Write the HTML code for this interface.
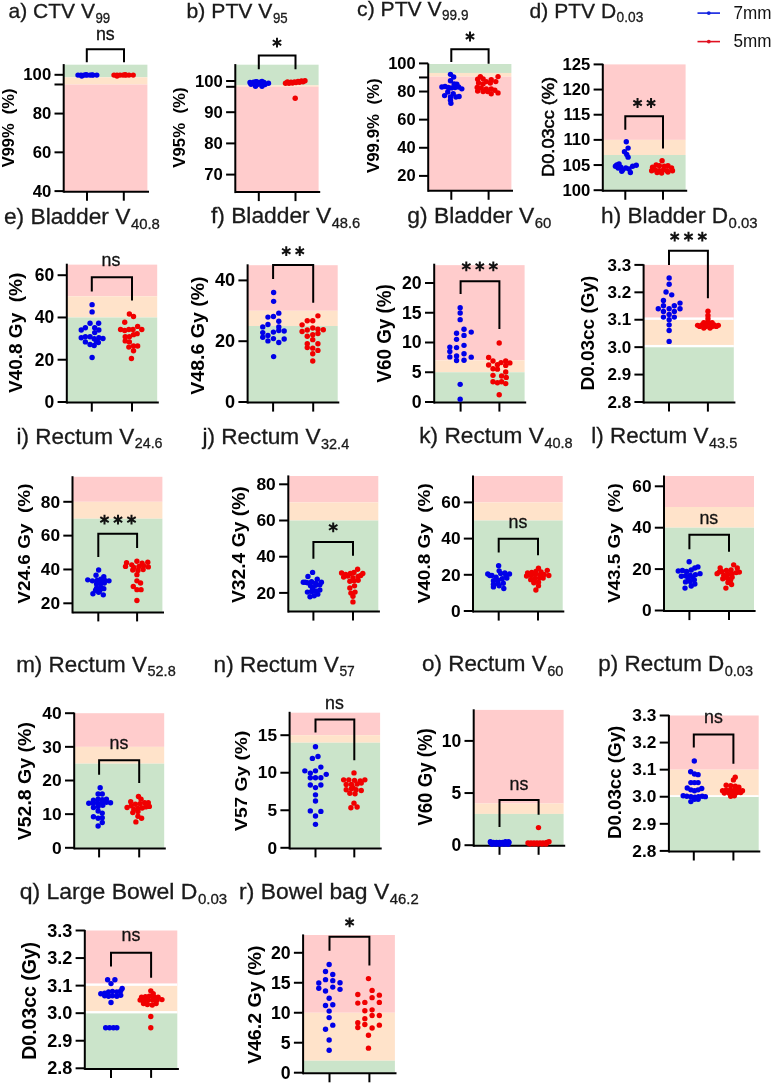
<!DOCTYPE html>
<html><head><meta charset="utf-8"><style>
html,body{margin:0;padding:0;background:#fff;}
body{width:773px;height:1084px;overflow:hidden;}
svg{display:block;font-family:"Liberation Sans", sans-serif;will-change:transform;}
</style></head><body>
<svg width="773" height="1084" viewBox="0 0 773 1084">
<rect width="773" height="1084" fill="#fff"/>
<rect x="63.7" y="64.7" width="83.7" height="12.62" fill="#CBE4CA"/>
<rect x="63.7" y="77.32" width="83.7" height="7.17" fill="#FFE3CA"/>
<rect x="63.7" y="84.49" width="83.7" height="107.21" fill="#FFCCCC"/>
<line x1="63.7" y1="64.1" x2="63.7" y2="192.7" stroke="#000" stroke-width="2.0"/>
<line x1="63.7" y1="191.7" x2="149" y2="191.7" stroke="#000" stroke-width="2.0"/>
<line x1="54.5" y1="74.8" x2="63.7" y2="74.8" stroke="#000" stroke-width="2.0"/>
<line x1="54.5" y1="113.57" x2="63.7" y2="113.57" stroke="#000" stroke-width="2.0"/>
<line x1="54.5" y1="152.33" x2="63.7" y2="152.33" stroke="#000" stroke-width="2.0"/>
<line x1="54.5" y1="191.1" x2="63.7" y2="191.1" stroke="#000" stroke-width="2.0"/>
<line x1="54.5" y1="84.49" x2="63.7" y2="84.49" stroke="#000" stroke-width="2.0"/>
<text x="51.2" y="80.31" font-size="16.7" font-weight="bold" text-anchor="end">100</text>
<text x="51.2" y="119.08" font-size="16.7" font-weight="bold" text-anchor="end">80</text>
<text x="51.2" y="157.85" font-size="16.7" font-weight="bold" text-anchor="end">60</text>
<text x="51.2" y="196.61" font-size="16.7" font-weight="bold" text-anchor="end">40</text>
<line x1="87" y1="191.7" x2="87" y2="200.7" stroke="#000" stroke-width="2.0"/>
<line x1="123.8" y1="191.7" x2="123.8" y2="200.7" stroke="#000" stroke-width="2.0"/>
<circle cx="78" cy="75.1" r="2.7" fill="#0000E8"/>
<circle cx="81" cy="75.1" r="2.7" fill="#0000E8"/>
<circle cx="84" cy="75.1" r="2.7" fill="#0000E8"/>
<circle cx="87" cy="75.1" r="2.7" fill="#0000E8"/>
<circle cx="90" cy="75.1" r="2.7" fill="#0000E8"/>
<circle cx="93" cy="75.1" r="2.7" fill="#0000E8"/>
<circle cx="96.8" cy="75.1" r="2.7" fill="#0000E8"/>
<circle cx="81.8" cy="76.1" r="2.7" fill="#0000E8"/>
<circle cx="86" cy="74.8" r="2.7" fill="#0000E8"/>
<circle cx="92" cy="74.9" r="2.7" fill="#0000E8"/>
<circle cx="114" cy="75.1" r="2.7" fill="#F00000"/>
<circle cx="117" cy="75.1" r="2.7" fill="#F00000"/>
<circle cx="120" cy="75.1" r="2.7" fill="#F00000"/>
<circle cx="123" cy="75.1" r="2.7" fill="#F00000"/>
<circle cx="126" cy="75.1" r="2.7" fill="#F00000"/>
<circle cx="129" cy="75.1" r="2.7" fill="#F00000"/>
<circle cx="133.2" cy="75.1" r="2.7" fill="#F00000"/>
<circle cx="117" cy="76" r="2.7" fill="#F00000"/>
<circle cx="125" cy="74.8" r="2.7" fill="#F00000"/>
<path d="M86.8 62.3V49.2H124V62.3" fill="none" stroke="#000" stroke-width="2.0"/>
<text x="105.3" y="39.6" font-size="18.5" text-anchor="middle" fill="#111" stroke="#111" stroke-width="0.3" textLength="18.8" lengthAdjust="spacingAndGlyphs">ns</text>
<text transform="translate(7.9 127.9) rotate(-90)" x="0" y="6.01" font-size="16.7" font-weight="bold" text-anchor="middle" textLength="78.8" lengthAdjust="spacingAndGlyphs" style="white-space:pre">V99%  (%)</text>
<text x="8.55" y="17.9" font-size="20.3" fill="#1a1a1a" stroke="#1a1a1a" stroke-width="0.3" textLength="86.45" lengthAdjust="spacingAndGlyphs">a) CTV V</text>
<text x="95.5" y="22.7" font-size="14" fill="#1a1a1a" stroke="#1a1a1a" stroke-width="0.3" textLength="14.7" lengthAdjust="spacingAndGlyphs">99</text>
<rect x="235.3" y="64.7" width="83.3" height="20.61" fill="#CBE4CA"/>
<rect x="235.3" y="85.31" width="83.3" height="1.5" fill="#FFE3CA"/>
<rect x="235.3" y="86.8" width="83.3" height="105.3" fill="#FFCCCC"/>
<line x1="235.3" y1="64.1" x2="235.3" y2="193.1" stroke="#000" stroke-width="2.0"/>
<line x1="235.3" y1="192.1" x2="320.2" y2="192.1" stroke="#000" stroke-width="2.0"/>
<line x1="226.1" y1="81" x2="235.3" y2="81" stroke="#000" stroke-width="2.0"/>
<line x1="226.1" y1="112.2" x2="235.3" y2="112.2" stroke="#000" stroke-width="2.0"/>
<line x1="226.1" y1="143.4" x2="235.3" y2="143.4" stroke="#000" stroke-width="2.0"/>
<line x1="226.1" y1="174.6" x2="235.3" y2="174.6" stroke="#000" stroke-width="2.0"/>
<line x1="226.1" y1="86.8" x2="235.3" y2="86.8" stroke="#000" stroke-width="2.0"/>
<text x="222.8" y="86.51" font-size="16.7" font-weight="bold" text-anchor="end">100</text>
<text x="222.8" y="117.71" font-size="16.7" font-weight="bold" text-anchor="end">90</text>
<text x="222.8" y="148.91" font-size="16.7" font-weight="bold" text-anchor="end">80</text>
<text x="222.8" y="180.11" font-size="16.7" font-weight="bold" text-anchor="end">70</text>
<line x1="258.8" y1="192.1" x2="258.8" y2="201.1" stroke="#000" stroke-width="2.0"/>
<line x1="295.5" y1="192.1" x2="295.5" y2="201.1" stroke="#000" stroke-width="2.0"/>
<circle cx="250" cy="82.5" r="2.7" fill="#0000E8"/>
<circle cx="253.5" cy="82.3" r="2.7" fill="#0000E8"/>
<circle cx="257" cy="82" r="2.7" fill="#0000E8"/>
<circle cx="260.5" cy="82.2" r="2.7" fill="#0000E8"/>
<circle cx="264" cy="82.5" r="2.7" fill="#0000E8"/>
<circle cx="268.5" cy="83.2" r="2.7" fill="#0000E8"/>
<circle cx="256" cy="81.6" r="2.7" fill="#0000E8"/>
<circle cx="262" cy="81.5" r="2.7" fill="#0000E8"/>
<circle cx="255.5" cy="86.2" r="2.7" fill="#0000E8"/>
<circle cx="262" cy="86.2" r="2.7" fill="#0000E8"/>
<circle cx="251" cy="84.2" r="2.7" fill="#0000E8"/>
<circle cx="258" cy="84.3" r="2.7" fill="#0000E8"/>
<circle cx="265" cy="84.5" r="2.7" fill="#0000E8"/>
<circle cx="285.5" cy="83.2" r="2.7" fill="#F00000"/>
<circle cx="289" cy="83.3" r="2.7" fill="#F00000"/>
<circle cx="292.5" cy="83" r="2.7" fill="#F00000"/>
<circle cx="296" cy="82.6" r="2.7" fill="#F00000"/>
<circle cx="299.5" cy="82.2" r="2.7" fill="#F00000"/>
<circle cx="303" cy="81.8" r="2.7" fill="#F00000"/>
<circle cx="305" cy="80.8" r="2.7" fill="#F00000"/>
<circle cx="298" cy="81.4" r="2.7" fill="#F00000"/>
<circle cx="291" cy="82.2" r="2.7" fill="#F00000"/>
<circle cx="294.5" cy="82" r="2.7" fill="#F00000"/>
<circle cx="301.5" cy="81" r="2.7" fill="#F00000"/>
<circle cx="287.5" cy="82" r="2.7" fill="#F00000"/>
<circle cx="295.2" cy="98.2" r="2.7" fill="#F00000"/>
<path d="M258.8 69.3V55.6H295.5V69.3" fill="none" stroke="#000" stroke-width="2.0"/>
<path d="M277 37.8L277 47.6M272.76 40.25L281.24 45.15M281.24 40.25L272.76 45.15" stroke="#111" stroke-width="2.0" stroke-linecap="butt"/>
<text transform="translate(179.4 127.6) rotate(-90)" x="0" y="6.01" font-size="16.7" font-weight="bold" text-anchor="middle" textLength="80.2" lengthAdjust="spacingAndGlyphs" style="white-space:pre">V95%  (%)</text>
<text x="186.6" y="17.9" font-size="20.3" fill="#1a1a1a" stroke="#1a1a1a" stroke-width="0.3" textLength="85.8" lengthAdjust="spacingAndGlyphs">b) PTV V</text>
<text x="272.9" y="22.7" font-size="14" fill="#1a1a1a" stroke="#1a1a1a" stroke-width="0.3" textLength="14.7" lengthAdjust="spacingAndGlyphs">95</text>
<rect x="428.2" y="64" width="83.2" height="8.96" fill="#CBE4CA"/>
<rect x="428.2" y="72.96" width="83.2" height="3.66" fill="#FFE3CA"/>
<rect x="428.2" y="76.62" width="83.2" height="114.18" fill="#FFCCCC"/>
<line x1="428.2" y1="63.4" x2="428.2" y2="191.8" stroke="#000" stroke-width="2.0"/>
<line x1="428.2" y1="190.8" x2="513" y2="190.8" stroke="#000" stroke-width="2.0"/>
<line x1="419" y1="63.4" x2="428.2" y2="63.4" stroke="#000" stroke-width="2.0"/>
<line x1="419" y1="91.53" x2="428.2" y2="91.53" stroke="#000" stroke-width="2.0"/>
<line x1="419" y1="119.65" x2="428.2" y2="119.65" stroke="#000" stroke-width="2.0"/>
<line x1="419" y1="147.78" x2="428.2" y2="147.78" stroke="#000" stroke-width="2.0"/>
<line x1="419" y1="175.9" x2="428.2" y2="175.9" stroke="#000" stroke-width="2.0"/>
<line x1="419" y1="77.46" x2="428.2" y2="77.46" stroke="#000" stroke-width="2.0"/>
<text x="415.7" y="68.84" font-size="16.5" font-weight="bold" text-anchor="end">100</text>
<text x="415.7" y="96.97" font-size="16.5" font-weight="bold" text-anchor="end">80</text>
<text x="415.7" y="125.09" font-size="16.5" font-weight="bold" text-anchor="end">60</text>
<text x="415.7" y="153.22" font-size="16.5" font-weight="bold" text-anchor="end">40</text>
<text x="415.7" y="181.34" font-size="16.5" font-weight="bold" text-anchor="end">20</text>
<line x1="451.3" y1="190.8" x2="451.3" y2="199.8" stroke="#000" stroke-width="2.0"/>
<line x1="488.6" y1="190.8" x2="488.6" y2="199.8" stroke="#000" stroke-width="2.0"/>
<circle cx="450.49" cy="74.34" r="2.7" fill="#0000E8"/>
<circle cx="453.66" cy="77.06" r="2.7" fill="#0000E8"/>
<circle cx="450.49" cy="80.68" r="2.7" fill="#0000E8"/>
<circle cx="454.11" cy="83.85" r="2.7" fill="#0000E8"/>
<circle cx="456.83" cy="84.3" r="2.7" fill="#0000E8"/>
<circle cx="441.89" cy="87.02" r="2.7" fill="#0000E8"/>
<circle cx="445.06" cy="86.56" r="2.7" fill="#0000E8"/>
<circle cx="448.23" cy="87.47" r="2.7" fill="#0000E8"/>
<circle cx="451.39" cy="87.92" r="2.7" fill="#0000E8"/>
<circle cx="455.02" cy="87.47" r="2.7" fill="#0000E8"/>
<circle cx="458.64" cy="87.02" r="2.7" fill="#0000E8"/>
<circle cx="461.81" cy="88.83" r="2.7" fill="#0000E8"/>
<circle cx="447.77" cy="92" r="2.7" fill="#0000E8"/>
<circle cx="453.21" cy="93.81" r="2.7" fill="#0000E8"/>
<circle cx="444.6" cy="95.62" r="2.7" fill="#0000E8"/>
<circle cx="450.49" cy="96.98" r="2.7" fill="#0000E8"/>
<circle cx="455.92" cy="96.98" r="2.7" fill="#0000E8"/>
<circle cx="459.09" cy="96.53" r="2.7" fill="#0000E8"/>
<circle cx="450.49" cy="100.15" r="2.7" fill="#0000E8"/>
<circle cx="450.94" cy="103.32" r="2.7" fill="#0000E8"/>
<circle cx="480.37" cy="76.6" r="2.7" fill="#F00000"/>
<circle cx="498.03" cy="76.6" r="2.7" fill="#F00000"/>
<circle cx="477.66" cy="79.32" r="2.7" fill="#F00000"/>
<circle cx="483.09" cy="78.87" r="2.7" fill="#F00000"/>
<circle cx="491.24" cy="79.77" r="2.7" fill="#F00000"/>
<circle cx="495.77" cy="81.58" r="2.7" fill="#F00000"/>
<circle cx="486.26" cy="81.58" r="2.7" fill="#F00000"/>
<circle cx="478.56" cy="82.94" r="2.7" fill="#F00000"/>
<circle cx="483.09" cy="83.85" r="2.7" fill="#F00000"/>
<circle cx="490.33" cy="82.94" r="2.7" fill="#F00000"/>
<circle cx="477.2" cy="87.47" r="2.7" fill="#F00000"/>
<circle cx="481.28" cy="87.92" r="2.7" fill="#F00000"/>
<circle cx="486.26" cy="88.83" r="2.7" fill="#F00000"/>
<circle cx="491.24" cy="88.83" r="2.7" fill="#F00000"/>
<circle cx="494.86" cy="90.19" r="2.7" fill="#F00000"/>
<circle cx="477.66" cy="91.09" r="2.7" fill="#F00000"/>
<circle cx="483.09" cy="91.54" r="2.7" fill="#F00000"/>
<circle cx="487.62" cy="91.54" r="2.7" fill="#F00000"/>
<circle cx="491.24" cy="93.81" r="2.7" fill="#F00000"/>
<circle cx="498.03" cy="92.9" r="2.7" fill="#F00000"/>
<path d="M451.3 62.1V49.2H488.6V63.8" fill="none" stroke="#000" stroke-width="2.0"/>
<path d="M470 31.6L470 41.4M465.76 34.05L474.24 38.95M474.24 34.05L465.76 38.95" stroke="#111" stroke-width="2.0" stroke-linecap="butt"/>
<text transform="translate(372.4 125.7) rotate(-90)" x="0" y="6.12" font-size="17" font-weight="bold" text-anchor="middle" textLength="94.8" lengthAdjust="spacingAndGlyphs" style="white-space:pre">V99.9%  (%)</text>
<text x="357.1" y="15.6" font-size="20.3" fill="#1a1a1a" stroke="#1a1a1a" stroke-width="0.3" textLength="84.5" lengthAdjust="spacingAndGlyphs">c) PTV V</text>
<text x="442.1" y="20.4" font-size="14" fill="#1a1a1a" stroke="#1a1a1a" stroke-width="0.3" textLength="26.3" lengthAdjust="spacingAndGlyphs">99.9</text>
<rect x="602.8" y="64.4" width="82.8" height="75.48" fill="#FFCCCC"/>
<rect x="602.8" y="139.88" width="82.8" height="15.1" fill="#FFE3CA"/>
<rect x="602.8" y="154.98" width="82.8" height="35.22" fill="#CBE4CA"/>
<line x1="602.8" y1="63.8" x2="602.8" y2="191.8" stroke="#000" stroke-width="2.0"/>
<line x1="602.8" y1="190.8" x2="687.2" y2="190.8" stroke="#000" stroke-width="2.0"/>
<line x1="593.6" y1="64.4" x2="602.8" y2="64.4" stroke="#000" stroke-width="2.0"/>
<line x1="593.6" y1="89.56" x2="602.8" y2="89.56" stroke="#000" stroke-width="2.0"/>
<line x1="593.6" y1="114.72" x2="602.8" y2="114.72" stroke="#000" stroke-width="2.0"/>
<line x1="593.6" y1="139.88" x2="602.8" y2="139.88" stroke="#000" stroke-width="2.0"/>
<line x1="593.6" y1="165.04" x2="602.8" y2="165.04" stroke="#000" stroke-width="2.0"/>
<line x1="593.6" y1="190.2" x2="602.8" y2="190.2" stroke="#000" stroke-width="2.0"/>
<text x="590.3" y="69.91" font-size="16.7" font-weight="bold" text-anchor="end">125</text>
<text x="590.3" y="95.07" font-size="16.7" font-weight="bold" text-anchor="end">120</text>
<text x="590.3" y="120.23" font-size="16.7" font-weight="bold" text-anchor="end">115</text>
<text x="590.3" y="145.39" font-size="16.7" font-weight="bold" text-anchor="end">110</text>
<text x="590.3" y="170.55" font-size="16.7" font-weight="bold" text-anchor="end">105</text>
<text x="590.3" y="195.71" font-size="16.7" font-weight="bold" text-anchor="end">100</text>
<line x1="625.3" y1="190.8" x2="625.3" y2="199.8" stroke="#000" stroke-width="2.0"/>
<line x1="663" y1="190.8" x2="663" y2="199.8" stroke="#000" stroke-width="2.0"/>
<circle cx="626.3" cy="141.77" r="2.7" fill="#0000E8"/>
<circle cx="628.11" cy="148.11" r="2.7" fill="#0000E8"/>
<circle cx="624.49" cy="151.73" r="2.7" fill="#0000E8"/>
<circle cx="626.75" cy="154.45" r="2.7" fill="#0000E8"/>
<circle cx="628.11" cy="157.17" r="2.7" fill="#0000E8"/>
<circle cx="616.79" cy="164.86" r="2.7" fill="#0000E8"/>
<circle cx="619.06" cy="163.96" r="2.7" fill="#0000E8"/>
<circle cx="620.87" cy="167.13" r="2.7" fill="#0000E8"/>
<circle cx="618.15" cy="168.03" r="2.7" fill="#0000E8"/>
<circle cx="622.68" cy="169.84" r="2.7" fill="#0000E8"/>
<circle cx="625.85" cy="168.03" r="2.7" fill="#0000E8"/>
<circle cx="629.02" cy="168.94" r="2.7" fill="#0000E8"/>
<circle cx="632.64" cy="166.22" r="2.7" fill="#0000E8"/>
<circle cx="636.26" cy="165.32" r="2.7" fill="#0000E8"/>
<circle cx="630.38" cy="172.56" r="2.7" fill="#0000E8"/>
<circle cx="621.77" cy="171.2" r="2.7" fill="#0000E8"/>
<circle cx="615.43" cy="166.22" r="2.7" fill="#0000E8"/>
<circle cx="662.07" cy="160.79" r="2.7" fill="#F00000"/>
<circle cx="652.56" cy="167.13" r="2.7" fill="#F00000"/>
<circle cx="656.18" cy="164.86" r="2.7" fill="#F00000"/>
<circle cx="659.35" cy="165.77" r="2.7" fill="#F00000"/>
<circle cx="664.33" cy="166.22" r="2.7" fill="#F00000"/>
<circle cx="667.96" cy="165.77" r="2.7" fill="#F00000"/>
<circle cx="671.58" cy="168.03" r="2.7" fill="#F00000"/>
<circle cx="651.66" cy="170.75" r="2.7" fill="#F00000"/>
<circle cx="655.28" cy="169.84" r="2.7" fill="#F00000"/>
<circle cx="659.35" cy="170.75" r="2.7" fill="#F00000"/>
<circle cx="663.43" cy="169.84" r="2.7" fill="#F00000"/>
<circle cx="667.05" cy="170.75" r="2.7" fill="#F00000"/>
<circle cx="672.48" cy="170.75" r="2.7" fill="#F00000"/>
<circle cx="657.09" cy="172.56" r="2.7" fill="#F00000"/>
<circle cx="661.62" cy="173.01" r="2.7" fill="#F00000"/>
<circle cx="667.96" cy="172.11" r="2.7" fill="#F00000"/>
<circle cx="653.47" cy="168.94" r="2.7" fill="#F00000"/>
<path d="M625.3 129.7V116.3H663V148.6" fill="none" stroke="#000" stroke-width="2.0"/>
<path d="M637.55 98.1L637.55 107.9M633.31 100.55L641.79 105.45M641.79 100.55L633.31 105.45" stroke="#111" stroke-width="2.0" stroke-linecap="butt"/>
<path d="M651.05 98.1L651.05 107.9M646.81 100.55L655.29 105.45M655.29 100.55L646.81 105.45" stroke="#111" stroke-width="2.0" stroke-linecap="butt"/>
<text transform="translate(548.3 126.9) rotate(-90)" x="0" y="6.12" font-size="17" font-weight="normal" text-anchor="middle" textLength="100" lengthAdjust="spacingAndGlyphs" style="white-space:pre" stroke="#000" stroke-width="0.55">D0.03cc (%)</text>
<text x="529.6" y="17.6" font-size="20.3" fill="#1a1a1a" stroke="#1a1a1a" stroke-width="0.3" textLength="86.5" lengthAdjust="spacingAndGlyphs">d) PTV D</text>
<text x="616.6" y="22.4" font-size="14" fill="#1a1a1a" stroke="#1a1a1a" stroke-width="0.3" textLength="26.7" lengthAdjust="spacingAndGlyphs">0.03</text>
<rect x="66.8" y="264.63" width="90.4" height="31.7" fill="#FFCCCC"/>
<rect x="66.8" y="296.33" width="90.4" height="21.13" fill="#FFE3CA"/>
<rect x="66.8" y="317.47" width="90.4" height="84.53" fill="#CBE4CA"/>
<line x1="66.8" y1="263.7" x2="66.8" y2="403.6" stroke="#000" stroke-width="2.0"/>
<line x1="66.8" y1="402.6" x2="158.8" y2="402.6" stroke="#000" stroke-width="2.0"/>
<line x1="57.6" y1="275.2" x2="66.8" y2="275.2" stroke="#000" stroke-width="2.0"/>
<line x1="57.6" y1="317.47" x2="66.8" y2="317.47" stroke="#000" stroke-width="2.0"/>
<line x1="57.6" y1="359.73" x2="66.8" y2="359.73" stroke="#000" stroke-width="2.0"/>
<line x1="57.6" y1="402" x2="66.8" y2="402" stroke="#000" stroke-width="2.0"/>
<text x="54.3" y="281" font-size="17.5" font-weight="bold" text-anchor="end">60</text>
<text x="54.3" y="323.27" font-size="17.5" font-weight="bold" text-anchor="end">40</text>
<text x="54.3" y="365.53" font-size="17.5" font-weight="bold" text-anchor="end">20</text>
<text x="54.3" y="407.8" font-size="17.5" font-weight="bold" text-anchor="end">0</text>
<line x1="91.8" y1="402.6" x2="91.8" y2="411.6" stroke="#000" stroke-width="2.0"/>
<line x1="132" y1="402.6" x2="132" y2="411.6" stroke="#000" stroke-width="2.0"/>
<circle cx="92.11" cy="304.66" r="2.7" fill="#0000E8"/>
<circle cx="92.11" cy="311.9" r="2.7" fill="#0000E8"/>
<circle cx="90.04" cy="323.29" r="2.7" fill="#0000E8"/>
<circle cx="98.63" cy="323.29" r="2.7" fill="#0000E8"/>
<circle cx="85.38" cy="327.74" r="2.7" fill="#0000E8"/>
<circle cx="81.24" cy="330.01" r="2.7" fill="#0000E8"/>
<circle cx="94.7" cy="327.74" r="2.7" fill="#0000E8"/>
<circle cx="98.84" cy="330.01" r="2.7" fill="#0000E8"/>
<circle cx="94.7" cy="332.6" r="2.7" fill="#0000E8"/>
<circle cx="81.24" cy="337.77" r="2.7" fill="#0000E8"/>
<circle cx="85.38" cy="336.74" r="2.7" fill="#0000E8"/>
<circle cx="90.04" cy="336.74" r="2.7" fill="#0000E8"/>
<circle cx="94.18" cy="338.81" r="2.7" fill="#0000E8"/>
<circle cx="98.84" cy="337.77" r="2.7" fill="#0000E8"/>
<circle cx="102.98" cy="338.5" r="2.7" fill="#0000E8"/>
<circle cx="85.38" cy="341.91" r="2.7" fill="#0000E8"/>
<circle cx="90.04" cy="344.5" r="2.7" fill="#0000E8"/>
<circle cx="94.18" cy="345.54" r="2.7" fill="#0000E8"/>
<circle cx="98.32" cy="342.43" r="2.7" fill="#0000E8"/>
<circle cx="96.25" cy="340.88" r="2.7" fill="#0000E8"/>
<circle cx="92.11" cy="357.44" r="2.7" fill="#0000E8"/>
<circle cx="129.37" cy="313.97" r="2.7" fill="#F00000"/>
<circle cx="133.51" cy="316.56" r="2.7" fill="#F00000"/>
<circle cx="124.71" cy="322.25" r="2.7" fill="#F00000"/>
<circle cx="120.57" cy="329.5" r="2.7" fill="#F00000"/>
<circle cx="124.71" cy="330.53" r="2.7" fill="#F00000"/>
<circle cx="128.85" cy="329.5" r="2.7" fill="#F00000"/>
<circle cx="132.99" cy="329.5" r="2.7" fill="#F00000"/>
<circle cx="137.65" cy="326.39" r="2.7" fill="#F00000"/>
<circle cx="141.79" cy="329.5" r="2.7" fill="#F00000"/>
<circle cx="137.13" cy="333.64" r="2.7" fill="#F00000"/>
<circle cx="133.51" cy="334.67" r="2.7" fill="#F00000"/>
<circle cx="125.23" cy="336.74" r="2.7" fill="#F00000"/>
<circle cx="129.37" cy="336.74" r="2.7" fill="#F00000"/>
<circle cx="125.23" cy="340.88" r="2.7" fill="#F00000"/>
<circle cx="129.37" cy="341.91" r="2.7" fill="#F00000"/>
<circle cx="128.85" cy="347.09" r="2.7" fill="#F00000"/>
<circle cx="133.51" cy="346.05" r="2.7" fill="#F00000"/>
<circle cx="137.65" cy="346.05" r="2.7" fill="#F00000"/>
<circle cx="133.51" cy="350.71" r="2.7" fill="#F00000"/>
<circle cx="131.44" cy="358.47" r="2.7" fill="#F00000"/>
<path d="M91.8 291.5V277.3H132V300.6" fill="none" stroke="#000" stroke-width="2.0"/>
<text x="111" y="266.1" font-size="18.5" text-anchor="middle" fill="#111" stroke="#111" stroke-width="0.3" textLength="18.8" lengthAdjust="spacingAndGlyphs">ns</text>
<text transform="translate(15.3 332.9) rotate(-90)" x="0" y="6.41" font-size="17.8" font-weight="bold" text-anchor="middle" textLength="120.4" lengthAdjust="spacingAndGlyphs" style="white-space:pre">V40.8 Gy  (%)</text>
<text x="3.9" y="223.8" font-size="21.5" fill="#1a1a1a" stroke="#1a1a1a" stroke-width="0.3" textLength="126.5" lengthAdjust="spacingAndGlyphs">e) Bladder V</text>
<text x="130.9" y="228.6" font-size="14.5" fill="#1a1a1a" stroke="#1a1a1a" stroke-width="0.3" textLength="29" lengthAdjust="spacingAndGlyphs">40.8</text>
<rect x="247.6" y="265.2" width="90.1" height="45.6" fill="#FFCCCC"/>
<rect x="247.6" y="310.8" width="90.1" height="15.2" fill="#FFE3CA"/>
<rect x="247.6" y="326" width="90.1" height="76" fill="#CBE4CA"/>
<line x1="247.6" y1="264.3" x2="247.6" y2="403.6" stroke="#000" stroke-width="2.0"/>
<line x1="247.6" y1="402.6" x2="339.3" y2="402.6" stroke="#000" stroke-width="2.0"/>
<line x1="238.4" y1="280.4" x2="247.6" y2="280.4" stroke="#000" stroke-width="2.0"/>
<line x1="238.4" y1="341.2" x2="247.6" y2="341.2" stroke="#000" stroke-width="2.0"/>
<line x1="238.4" y1="402" x2="247.6" y2="402" stroke="#000" stroke-width="2.0"/>
<text x="235.1" y="286.42" font-size="18.1" font-weight="bold" text-anchor="end">40</text>
<text x="235.1" y="347.22" font-size="18.1" font-weight="bold" text-anchor="end">20</text>
<text x="235.1" y="408.02" font-size="18.1" font-weight="bold" text-anchor="end">0</text>
<line x1="273.1" y1="402.6" x2="273.1" y2="411.6" stroke="#000" stroke-width="2.0"/>
<line x1="313.2" y1="402.6" x2="313.2" y2="411.6" stroke="#000" stroke-width="2.0"/>
<circle cx="273.63" cy="292.45" r="2.7" fill="#0000E8"/>
<circle cx="273.63" cy="301.35" r="2.7" fill="#0000E8"/>
<circle cx="278.8" cy="313.15" r="2.7" fill="#0000E8"/>
<circle cx="267.94" cy="317.08" r="2.7" fill="#0000E8"/>
<circle cx="273.42" cy="316.57" r="2.7" fill="#0000E8"/>
<circle cx="278.8" cy="321.22" r="2.7" fill="#0000E8"/>
<circle cx="267.94" cy="324.53" r="2.7" fill="#0000E8"/>
<circle cx="262.76" cy="326.91" r="2.7" fill="#0000E8"/>
<circle cx="278.8" cy="326.91" r="2.7" fill="#0000E8"/>
<circle cx="262.76" cy="332.61" r="2.7" fill="#0000E8"/>
<circle cx="267.94" cy="335.5" r="2.7" fill="#0000E8"/>
<circle cx="273.42" cy="332.09" r="2.7" fill="#0000E8"/>
<circle cx="278.8" cy="330.54" r="2.7" fill="#0000E8"/>
<circle cx="284.18" cy="331.05" r="2.7" fill="#0000E8"/>
<circle cx="262.76" cy="337.26" r="2.7" fill="#0000E8"/>
<circle cx="267.94" cy="340.89" r="2.7" fill="#0000E8"/>
<circle cx="273.42" cy="338.61" r="2.7" fill="#0000E8"/>
<circle cx="278.8" cy="342.44" r="2.7" fill="#0000E8"/>
<circle cx="284.18" cy="339.02" r="2.7" fill="#0000E8"/>
<circle cx="273.63" cy="356.62" r="2.7" fill="#0000E8"/>
<circle cx="317.92" cy="315.84" r="2.7" fill="#F00000"/>
<circle cx="307.26" cy="320.71" r="2.7" fill="#F00000"/>
<circle cx="312.75" cy="320.71" r="2.7" fill="#F00000"/>
<circle cx="302.09" cy="324.84" r="2.7" fill="#F00000"/>
<circle cx="302.09" cy="331.57" r="2.7" fill="#F00000"/>
<circle cx="307.26" cy="330.02" r="2.7" fill="#F00000"/>
<circle cx="312.75" cy="327.95" r="2.7" fill="#F00000"/>
<circle cx="317.92" cy="329.29" r="2.7" fill="#F00000"/>
<circle cx="323.31" cy="329.71" r="2.7" fill="#F00000"/>
<circle cx="312.75" cy="334.68" r="2.7" fill="#F00000"/>
<circle cx="317.92" cy="333.43" r="2.7" fill="#F00000"/>
<circle cx="307.26" cy="336.23" r="2.7" fill="#F00000"/>
<circle cx="312.75" cy="339.64" r="2.7" fill="#F00000"/>
<circle cx="307.26" cy="343.78" r="2.7" fill="#F00000"/>
<circle cx="317.92" cy="343.78" r="2.7" fill="#F00000"/>
<circle cx="307.26" cy="347.61" r="2.7" fill="#F00000"/>
<circle cx="312.75" cy="348.13" r="2.7" fill="#F00000"/>
<circle cx="317.92" cy="350.41" r="2.7" fill="#F00000"/>
<circle cx="312.75" cy="353.82" r="2.7" fill="#F00000"/>
<circle cx="312.75" cy="361.07" r="2.7" fill="#F00000"/>
<path d="M273.1 279.1V264.9H313.2V302.8" fill="none" stroke="#000" stroke-width="2.0"/>
<path d="M286.25 246.3L286.25 256.1M282.01 248.75L290.49 253.65M290.49 248.75L282.01 253.65" stroke="#111" stroke-width="2.0" stroke-linecap="butt"/>
<path d="M299.75 246.3L299.75 256.1M295.51 248.75L303.99 253.65M303.99 248.75L295.51 253.65" stroke="#111" stroke-width="2.0" stroke-linecap="butt"/>
<text transform="translate(197 335.6) rotate(-90)" x="0" y="6.73" font-size="18.7" font-weight="bold" text-anchor="middle" textLength="118.2" lengthAdjust="spacingAndGlyphs" style="white-space:pre">V48.6 Gy (%)</text>
<text x="210.9" y="223.4" font-size="21.5" fill="#1a1a1a" stroke="#1a1a1a" stroke-width="0.3" textLength="120.3" lengthAdjust="spacingAndGlyphs">f) Bladder V</text>
<text x="331.7" y="228.2" font-size="14.5" fill="#1a1a1a" stroke="#1a1a1a" stroke-width="0.3" textLength="28.6" lengthAdjust="spacingAndGlyphs">48.6</text>
<rect x="434.2" y="265.15" width="90.4" height="95.2" fill="#FFCCCC"/>
<rect x="434.2" y="360.35" width="90.4" height="11.9" fill="#FFE3CA"/>
<rect x="434.2" y="372.25" width="90.4" height="29.75" fill="#CBE4CA"/>
<line x1="434.2" y1="263.7" x2="434.2" y2="403.6" stroke="#000" stroke-width="2.0"/>
<line x1="434.2" y1="402.6" x2="526.2" y2="402.6" stroke="#000" stroke-width="2.0"/>
<line x1="425" y1="283" x2="434.2" y2="283" stroke="#000" stroke-width="2.0"/>
<line x1="425" y1="312.75" x2="434.2" y2="312.75" stroke="#000" stroke-width="2.0"/>
<line x1="425" y1="342.5" x2="434.2" y2="342.5" stroke="#000" stroke-width="2.0"/>
<line x1="425" y1="372.25" x2="434.2" y2="372.25" stroke="#000" stroke-width="2.0"/>
<line x1="425" y1="402" x2="434.2" y2="402" stroke="#000" stroke-width="2.0"/>
<text x="421.7" y="288.87" font-size="17.7" font-weight="bold" text-anchor="end">20</text>
<text x="421.7" y="318.62" font-size="17.7" font-weight="bold" text-anchor="end">15</text>
<text x="421.7" y="348.37" font-size="17.7" font-weight="bold" text-anchor="end">10</text>
<text x="421.7" y="378.12" font-size="17.7" font-weight="bold" text-anchor="end">5</text>
<text x="421.7" y="407.87" font-size="17.7" font-weight="bold" text-anchor="end">0</text>
<line x1="460.6" y1="402.6" x2="460.6" y2="411.6" stroke="#000" stroke-width="2.0"/>
<line x1="499.4" y1="402.6" x2="499.4" y2="411.6" stroke="#000" stroke-width="2.0"/>
<circle cx="460.18" cy="307.76" r="2.7" fill="#0000E8"/>
<circle cx="460.18" cy="312.94" r="2.7" fill="#0000E8"/>
<circle cx="460.18" cy="319.66" r="2.7" fill="#0000E8"/>
<circle cx="464.01" cy="329.18" r="2.7" fill="#0000E8"/>
<circle cx="456.56" cy="333.32" r="2.7" fill="#0000E8"/>
<circle cx="464.01" cy="335.39" r="2.7" fill="#0000E8"/>
<circle cx="471.25" cy="332.08" r="2.7" fill="#0000E8"/>
<circle cx="456.56" cy="339.33" r="2.7" fill="#0000E8"/>
<circle cx="464.01" cy="345.33" r="2.7" fill="#0000E8"/>
<circle cx="449.83" cy="347.09" r="2.7" fill="#0000E8"/>
<circle cx="456.56" cy="347.61" r="2.7" fill="#0000E8"/>
<circle cx="449.83" cy="351.54" r="2.7" fill="#0000E8"/>
<circle cx="449.83" cy="356.92" r="2.7" fill="#0000E8"/>
<circle cx="456.56" cy="355.89" r="2.7" fill="#0000E8"/>
<circle cx="464.01" cy="353.82" r="2.7" fill="#0000E8"/>
<circle cx="471.25" cy="357.13" r="2.7" fill="#0000E8"/>
<circle cx="456.56" cy="360.54" r="2.7" fill="#0000E8"/>
<circle cx="464.01" cy="360.23" r="2.7" fill="#0000E8"/>
<circle cx="460.18" cy="384.35" r="2.7" fill="#0000E8"/>
<circle cx="460.18" cy="399.15" r="2.7" fill="#0000E8"/>
<circle cx="499.2" cy="342.95" r="2.7" fill="#F00000"/>
<circle cx="488.64" cy="357.44" r="2.7" fill="#F00000"/>
<circle cx="492.99" cy="361.06" r="2.7" fill="#F00000"/>
<circle cx="488.64" cy="364.99" r="2.7" fill="#F00000"/>
<circle cx="497.44" cy="364.68" r="2.7" fill="#F00000"/>
<circle cx="501.06" cy="362.61" r="2.7" fill="#F00000"/>
<circle cx="505.72" cy="361.06" r="2.7" fill="#F00000"/>
<circle cx="509.86" cy="362.92" r="2.7" fill="#F00000"/>
<circle cx="505.72" cy="365.41" r="2.7" fill="#F00000"/>
<circle cx="492.99" cy="368.82" r="2.7" fill="#F00000"/>
<circle cx="497.44" cy="369.13" r="2.7" fill="#F00000"/>
<circle cx="505.72" cy="371.93" r="2.7" fill="#F00000"/>
<circle cx="492.99" cy="375.34" r="2.7" fill="#F00000"/>
<circle cx="501.58" cy="376.07" r="2.7" fill="#F00000"/>
<circle cx="506.24" cy="377.41" r="2.7" fill="#F00000"/>
<circle cx="492.99" cy="381.76" r="2.7" fill="#F00000"/>
<circle cx="497.44" cy="382.79" r="2.7" fill="#F00000"/>
<circle cx="501.58" cy="381.76" r="2.7" fill="#F00000"/>
<circle cx="505.72" cy="383.62" r="2.7" fill="#F00000"/>
<circle cx="499.2" cy="394.7" r="2.7" fill="#F00000"/>
<path d="M460.6 294.1V281.2H499.4V329" fill="none" stroke="#000" stroke-width="2.0"/>
<path d="M466.3 261.4L466.3 271.2M462.06 263.85L470.54 268.75M470.54 263.85L462.06 268.75" stroke="#111" stroke-width="2.0" stroke-linecap="butt"/>
<path d="M479.8 261.4L479.8 271.2M475.56 263.85L484.04 268.75M484.04 263.85L475.56 268.75" stroke="#111" stroke-width="2.0" stroke-linecap="butt"/>
<path d="M493.3 261.4L493.3 271.2M489.06 263.85L497.54 268.75M497.54 263.85L489.06 268.75" stroke="#111" stroke-width="2.0" stroke-linecap="butt"/>
<text transform="translate(384.4 333.4) rotate(-90)" x="0" y="7.02" font-size="19.5" font-weight="bold" text-anchor="middle" textLength="98.6" lengthAdjust="spacingAndGlyphs" style="white-space:pre">V60 Gy (%)</text>
<text x="407.3" y="223.4" font-size="21.5" fill="#1a1a1a" stroke="#1a1a1a" stroke-width="0.3" textLength="127" lengthAdjust="spacingAndGlyphs">g) Bladder V</text>
<text x="534.8" y="228.2" font-size="14.5" fill="#1a1a1a" stroke="#1a1a1a" stroke-width="0.3" textLength="16.6" lengthAdjust="spacingAndGlyphs">60</text>
<rect x="643.6" y="264.9" width="90.2" height="54.84" fill="#FFCCCC"/>
<rect x="643.6" y="319.74" width="90.2" height="27.42" fill="#FFE3CA"/>
<rect x="643.6" y="347.16" width="90.2" height="54.84" fill="#CBE4CA"/>
<rect x="643.6" y="317.44" width="90.2" height="2.4" fill="#fff"/>
<rect x="643.6" y="344.96" width="90.2" height="2.2" fill="#fff"/>
<line x1="643.6" y1="264.3" x2="643.6" y2="403.6" stroke="#000" stroke-width="2.0"/>
<line x1="643.6" y1="402.6" x2="735.4" y2="402.6" stroke="#000" stroke-width="2.0"/>
<line x1="634.4" y1="264.9" x2="643.6" y2="264.9" stroke="#000" stroke-width="2.0"/>
<line x1="634.4" y1="292.32" x2="643.6" y2="292.32" stroke="#000" stroke-width="2.0"/>
<line x1="634.4" y1="319.74" x2="643.6" y2="319.74" stroke="#000" stroke-width="2.0"/>
<line x1="634.4" y1="347.16" x2="643.6" y2="347.16" stroke="#000" stroke-width="2.0"/>
<line x1="634.4" y1="374.58" x2="643.6" y2="374.58" stroke="#000" stroke-width="2.0"/>
<line x1="634.4" y1="402" x2="643.6" y2="402" stroke="#000" stroke-width="2.0"/>
<text x="631.1" y="270.52" font-size="17.0" font-weight="bold" text-anchor="end">3.3</text>
<text x="631.1" y="297.94" font-size="17.0" font-weight="bold" text-anchor="end">3.2</text>
<text x="631.1" y="325.36" font-size="17.0" font-weight="bold" text-anchor="end">3.1</text>
<text x="631.1" y="352.78" font-size="17.0" font-weight="bold" text-anchor="end">3.0</text>
<text x="631.1" y="380.2" font-size="17.0" font-weight="bold" text-anchor="end">2.9</text>
<text x="631.1" y="407.62" font-size="17.0" font-weight="bold" text-anchor="end">2.8</text>
<line x1="669" y1="402.6" x2="669" y2="411.6" stroke="#000" stroke-width="2.0"/>
<line x1="707.9" y1="402.6" x2="707.9" y2="411.6" stroke="#000" stroke-width="2.0"/>
<circle cx="669.15" cy="278.07" r="2.7" fill="#0000E8"/>
<circle cx="669.15" cy="284.28" r="2.7" fill="#0000E8"/>
<circle cx="666.04" cy="291.94" r="2.7" fill="#0000E8"/>
<circle cx="671.73" cy="294.84" r="2.7" fill="#0000E8"/>
<circle cx="663.45" cy="300.53" r="2.7" fill="#0000E8"/>
<circle cx="680.01" cy="303.12" r="2.7" fill="#0000E8"/>
<circle cx="663.45" cy="305.71" r="2.7" fill="#0000E8"/>
<circle cx="674.32" cy="305.71" r="2.7" fill="#0000E8"/>
<circle cx="658.28" cy="308.81" r="2.7" fill="#0000E8"/>
<circle cx="663.45" cy="311.4" r="2.7" fill="#0000E8"/>
<circle cx="669.15" cy="308.81" r="2.7" fill="#0000E8"/>
<circle cx="674.32" cy="311.4" r="2.7" fill="#0000E8"/>
<circle cx="680.01" cy="308.81" r="2.7" fill="#0000E8"/>
<circle cx="669.15" cy="314.5" r="2.7" fill="#0000E8"/>
<circle cx="663.45" cy="317.09" r="2.7" fill="#0000E8"/>
<circle cx="674.32" cy="317.09" r="2.7" fill="#0000E8"/>
<circle cx="669.15" cy="319.68" r="2.7" fill="#0000E8"/>
<circle cx="669.15" cy="324.85" r="2.7" fill="#0000E8"/>
<circle cx="669.15" cy="330.54" r="2.7" fill="#0000E8"/>
<circle cx="669.15" cy="341.41" r="2.7" fill="#0000E8"/>
<circle cx="707.96" cy="311.19" r="2.7" fill="#F00000"/>
<circle cx="707.96" cy="315.54" r="2.7" fill="#F00000"/>
<circle cx="707.96" cy="318.64" r="2.7" fill="#F00000"/>
<circle cx="697.61" cy="325.37" r="2.7" fill="#F00000"/>
<circle cx="701.75" cy="324.85" r="2.7" fill="#F00000"/>
<circle cx="705.89" cy="323.82" r="2.7" fill="#F00000"/>
<circle cx="710.03" cy="323.82" r="2.7" fill="#F00000"/>
<circle cx="714.17" cy="324.85" r="2.7" fill="#F00000"/>
<circle cx="718.31" cy="325.37" r="2.7" fill="#F00000"/>
<circle cx="703.82" cy="327.96" r="2.7" fill="#F00000"/>
<circle cx="710.03" cy="327.96" r="2.7" fill="#F00000"/>
<circle cx="705.89" cy="326.4" r="2.7" fill="#F00000"/>
<circle cx="712.1" cy="326.4" r="2.7" fill="#F00000"/>
<circle cx="699.68" cy="326.4" r="2.7" fill="#F00000"/>
<circle cx="716.24" cy="326.4" r="2.7" fill="#F00000"/>
<circle cx="707.96" cy="321.75" r="2.7" fill="#F00000"/>
<circle cx="703.82" cy="322.78" r="2.7" fill="#F00000"/>
<circle cx="712.1" cy="322.78" r="2.7" fill="#F00000"/>
<path d="M669 265.1V250.8H707.9V298.3" fill="none" stroke="#000" stroke-width="2.0"/>
<path d="M674.7 231.7L674.7 241.5M670.46 234.15L678.94 239.05M678.94 234.15L670.46 239.05" stroke="#111" stroke-width="2.0" stroke-linecap="butt"/>
<path d="M688.5 231.7L688.5 241.5M684.26 234.15L692.74 239.05M692.74 234.15L684.26 239.05" stroke="#111" stroke-width="2.0" stroke-linecap="butt"/>
<path d="M702.3 231.7L702.3 241.5M698.06 234.15L706.54 239.05M706.54 234.15L698.06 239.05" stroke="#111" stroke-width="2.0" stroke-linecap="butt"/>
<text transform="translate(587.7 333.1) rotate(-90)" x="0" y="6.66" font-size="18.5" font-weight="bold" text-anchor="middle" textLength="114.8" lengthAdjust="spacingAndGlyphs" style="white-space:pre">D0.03cc (Gy)</text>
<text x="601.1" y="223.4" font-size="21.5" fill="#1a1a1a" stroke="#1a1a1a" stroke-width="0.3" textLength="127" lengthAdjust="spacingAndGlyphs">h) Bladder D</text>
<text x="728.6" y="228.2" font-size="14.5" fill="#1a1a1a" stroke="#1a1a1a" stroke-width="0.3" textLength="29" lengthAdjust="spacingAndGlyphs">0.03</text>
<rect x="72.5" y="476.8" width="89.9" height="25" fill="#FFCCCC"/>
<rect x="72.5" y="501.8" width="89.9" height="16.92" fill="#FFE3CA"/>
<rect x="72.5" y="518.72" width="89.9" height="93.68" fill="#CBE4CA"/>
<line x1="72.5" y1="476.2" x2="72.5" y2="613.4" stroke="#000" stroke-width="2.0"/>
<line x1="72.5" y1="612.4" x2="164" y2="612.4" stroke="#000" stroke-width="2.0"/>
<line x1="63.3" y1="501.8" x2="72.5" y2="501.8" stroke="#000" stroke-width="2.0"/>
<line x1="63.3" y1="535.63" x2="72.5" y2="535.63" stroke="#000" stroke-width="2.0"/>
<line x1="63.3" y1="569.47" x2="72.5" y2="569.47" stroke="#000" stroke-width="2.0"/>
<line x1="63.3" y1="603.3" x2="72.5" y2="603.3" stroke="#000" stroke-width="2.0"/>
<text x="60" y="507.53" font-size="17.3" font-weight="bold" text-anchor="end">80</text>
<text x="60" y="541.36" font-size="17.3" font-weight="bold" text-anchor="end">60</text>
<text x="60" y="575.19" font-size="17.3" font-weight="bold" text-anchor="end">40</text>
<text x="60" y="609.03" font-size="17.3" font-weight="bold" text-anchor="end">20</text>
<line x1="98.3" y1="612.4" x2="98.3" y2="621.4" stroke="#000" stroke-width="2.0"/>
<line x1="137.1" y1="612.4" x2="137.1" y2="621.4" stroke="#000" stroke-width="2.0"/>
<circle cx="98.63" cy="570.01" r="2.7" fill="#0000E8"/>
<circle cx="96.04" cy="575.18" r="2.7" fill="#0000E8"/>
<circle cx="103.8" cy="576.73" r="2.7" fill="#0000E8"/>
<circle cx="87.76" cy="579.84" r="2.7" fill="#0000E8"/>
<circle cx="92.42" cy="580.87" r="2.7" fill="#0000E8"/>
<circle cx="97.08" cy="580.36" r="2.7" fill="#0000E8"/>
<circle cx="100.7" cy="579.32" r="2.7" fill="#0000E8"/>
<circle cx="104.84" cy="580.36" r="2.7" fill="#0000E8"/>
<circle cx="108.98" cy="580.87" r="2.7" fill="#0000E8"/>
<circle cx="96.56" cy="583.98" r="2.7" fill="#0000E8"/>
<circle cx="100.7" cy="583.46" r="2.7" fill="#0000E8"/>
<circle cx="104.32" cy="582.94" r="2.7" fill="#0000E8"/>
<circle cx="96.56" cy="588.12" r="2.7" fill="#0000E8"/>
<circle cx="103.8" cy="588.64" r="2.7" fill="#0000E8"/>
<circle cx="99.66" cy="590.71" r="2.7" fill="#0000E8"/>
<circle cx="92.94" cy="593.81" r="2.7" fill="#0000E8"/>
<circle cx="98.63" cy="592.26" r="2.7" fill="#0000E8"/>
<circle cx="103.29" cy="594.84" r="2.7" fill="#0000E8"/>
<circle cx="95.52" cy="590.19" r="2.7" fill="#0000E8"/>
<circle cx="100.7" cy="587.08" r="2.7" fill="#0000E8"/>
<circle cx="126.57" cy="562.76" r="2.7" fill="#F00000"/>
<circle cx="131.75" cy="564.83" r="2.7" fill="#F00000"/>
<circle cx="136.92" cy="561.21" r="2.7" fill="#F00000"/>
<circle cx="142.1" cy="563.28" r="2.7" fill="#F00000"/>
<circle cx="147.79" cy="562.24" r="2.7" fill="#F00000"/>
<circle cx="125.54" cy="566.38" r="2.7" fill="#F00000"/>
<circle cx="133.82" cy="567.42" r="2.7" fill="#F00000"/>
<circle cx="138.99" cy="566.38" r="2.7" fill="#F00000"/>
<circle cx="143.65" cy="565.87" r="2.7" fill="#F00000"/>
<circle cx="148.31" cy="566.9" r="2.7" fill="#F00000"/>
<circle cx="132.78" cy="570.01" r="2.7" fill="#F00000"/>
<circle cx="137.96" cy="570.52" r="2.7" fill="#F00000"/>
<circle cx="143.13" cy="569.49" r="2.7" fill="#F00000"/>
<circle cx="136.92" cy="574.66" r="2.7" fill="#F00000"/>
<circle cx="136.92" cy="580.87" r="2.7" fill="#F00000"/>
<circle cx="140.54" cy="582.94" r="2.7" fill="#F00000"/>
<circle cx="133.3" cy="586.57" r="2.7" fill="#F00000"/>
<circle cx="136.92" cy="589.67" r="2.7" fill="#F00000"/>
<circle cx="141.06" cy="589.67" r="2.7" fill="#F00000"/>
<circle cx="136.92" cy="600.54" r="2.7" fill="#F00000"/>
<path d="M98.3 557V533.7H137.1V547.9" fill="none" stroke="#000" stroke-width="2.0"/>
<path d="M104.5 514.7L104.5 524.5M100.26 517.15L108.74 522.05M108.74 517.15L100.26 522.05" stroke="#111" stroke-width="2.0" stroke-linecap="butt"/>
<path d="M118 514.7L118 524.5M113.76 517.15L122.24 522.05M122.24 517.15L113.76 522.05" stroke="#111" stroke-width="2.0" stroke-linecap="butt"/>
<path d="M131.5 514.7L131.5 524.5M127.26 517.15L135.74 522.05M135.74 517.15L127.26 522.05" stroke="#111" stroke-width="2.0" stroke-linecap="butt"/>
<text transform="translate(23.4 543.6) rotate(-90)" x="0" y="6.23" font-size="17.3" font-weight="bold" text-anchor="middle" textLength="120.2" lengthAdjust="spacingAndGlyphs" style="white-space:pre">V24.6 Gy  (%)</text>
<text x="16.5" y="443.5" font-size="21.5" fill="#1a1a1a" stroke="#1a1a1a" stroke-width="0.3" textLength="117.7" lengthAdjust="spacingAndGlyphs">i) Rectum V</text>
<text x="134.7" y="448.3" font-size="14.5" fill="#1a1a1a" stroke="#1a1a1a" stroke-width="0.3" textLength="27.9" lengthAdjust="spacingAndGlyphs">24.6</text>
<rect x="288.3" y="476" width="90" height="26.4" fill="#FFCCCC"/>
<rect x="288.3" y="502.4" width="90" height="18.1" fill="#FFE3CA"/>
<rect x="288.3" y="520.5" width="90" height="91.1" fill="#CBE4CA"/>
<line x1="288.3" y1="475.4" x2="288.3" y2="612.6" stroke="#000" stroke-width="2.0"/>
<line x1="288.3" y1="611.6" x2="379.9" y2="611.6" stroke="#000" stroke-width="2.0"/>
<line x1="279.1" y1="484.3" x2="288.3" y2="484.3" stroke="#000" stroke-width="2.0"/>
<line x1="279.1" y1="520.5" x2="288.3" y2="520.5" stroke="#000" stroke-width="2.0"/>
<line x1="279.1" y1="556.7" x2="288.3" y2="556.7" stroke="#000" stroke-width="2.0"/>
<line x1="279.1" y1="592.9" x2="288.3" y2="592.9" stroke="#000" stroke-width="2.0"/>
<text x="275.8" y="490.06" font-size="17.4" font-weight="bold" text-anchor="end">80</text>
<text x="275.8" y="526.26" font-size="17.4" font-weight="bold" text-anchor="end">60</text>
<text x="275.8" y="562.46" font-size="17.4" font-weight="bold" text-anchor="end">40</text>
<text x="275.8" y="598.66" font-size="17.4" font-weight="bold" text-anchor="end">20</text>
<line x1="313.4" y1="611.6" x2="313.4" y2="620.6" stroke="#000" stroke-width="2.0"/>
<line x1="353" y1="611.6" x2="353" y2="620.6" stroke="#000" stroke-width="2.0"/>
<circle cx="312.59" cy="572.42" r="2.7" fill="#0000E8"/>
<circle cx="307.94" cy="576.56" r="2.7" fill="#0000E8"/>
<circle cx="317.25" cy="579.15" r="2.7" fill="#0000E8"/>
<circle cx="303.28" cy="582.25" r="2.7" fill="#0000E8"/>
<circle cx="307.42" cy="582.77" r="2.7" fill="#0000E8"/>
<circle cx="311.56" cy="581.73" r="2.7" fill="#0000E8"/>
<circle cx="315.7" cy="583.29" r="2.7" fill="#0000E8"/>
<circle cx="321.39" cy="582.25" r="2.7" fill="#0000E8"/>
<circle cx="310.52" cy="585.87" r="2.7" fill="#0000E8"/>
<circle cx="315.7" cy="585.36" r="2.7" fill="#0000E8"/>
<circle cx="319.84" cy="584.84" r="2.7" fill="#0000E8"/>
<circle cx="307.42" cy="592.08" r="2.7" fill="#0000E8"/>
<circle cx="311.56" cy="591.57" r="2.7" fill="#0000E8"/>
<circle cx="315.7" cy="591.05" r="2.7" fill="#0000E8"/>
<circle cx="319.84" cy="590.01" r="2.7" fill="#0000E8"/>
<circle cx="310.01" cy="596.74" r="2.7" fill="#0000E8"/>
<circle cx="314.15" cy="595.71" r="2.7" fill="#0000E8"/>
<circle cx="317.77" cy="594.15" r="2.7" fill="#0000E8"/>
<circle cx="312.59" cy="587.94" r="2.7" fill="#0000E8"/>
<circle cx="305.35" cy="582.25" r="2.7" fill="#0000E8"/>
<circle cx="341.57" cy="572.94" r="2.7" fill="#F00000"/>
<circle cx="345.71" cy="574.49" r="2.7" fill="#F00000"/>
<circle cx="350.37" cy="573.45" r="2.7" fill="#F00000"/>
<circle cx="353.99" cy="572.42" r="2.7" fill="#F00000"/>
<circle cx="357.61" cy="569.31" r="2.7" fill="#F00000"/>
<circle cx="362.79" cy="573.45" r="2.7" fill="#F00000"/>
<circle cx="343.64" cy="577.08" r="2.7" fill="#F00000"/>
<circle cx="347.78" cy="576.04" r="2.7" fill="#F00000"/>
<circle cx="352.96" cy="577.59" r="2.7" fill="#F00000"/>
<circle cx="358.13" cy="576.56" r="2.7" fill="#F00000"/>
<circle cx="349.85" cy="581.22" r="2.7" fill="#F00000"/>
<circle cx="353.99" cy="580.7" r="2.7" fill="#F00000"/>
<circle cx="358.13" cy="580.18" r="2.7" fill="#F00000"/>
<circle cx="349.85" cy="587.94" r="2.7" fill="#F00000"/>
<circle cx="354.51" cy="585.87" r="2.7" fill="#F00000"/>
<circle cx="350.89" cy="593.12" r="2.7" fill="#F00000"/>
<circle cx="355.03" cy="592.08" r="2.7" fill="#F00000"/>
<circle cx="352.96" cy="596.22" r="2.7" fill="#F00000"/>
<circle cx="352.96" cy="601.91" r="2.7" fill="#F00000"/>
<circle cx="360.72" cy="575.52" r="2.7" fill="#F00000"/>
<path d="M313.4 558.8V542H353V555.7" fill="none" stroke="#000" stroke-width="2.0"/>
<path d="M333.2 522.4L333.2 532.2M328.96 524.85L337.44 529.75M337.44 524.85L328.96 529.75" stroke="#111" stroke-width="2.0" stroke-linecap="butt"/>
<text transform="translate(238.5 544.7) rotate(-90)" x="0" y="6.41" font-size="17.8" font-weight="bold" text-anchor="middle" textLength="116.8" lengthAdjust="spacingAndGlyphs" style="white-space:pre">V32.4 Gy (%)</text>
<text x="202.4" y="443.8" font-size="21.5" fill="#1a1a1a" stroke="#1a1a1a" stroke-width="0.3" textLength="118.1" lengthAdjust="spacingAndGlyphs">j) Rectum V</text>
<text x="321" y="448.6" font-size="14.5" fill="#1a1a1a" stroke="#1a1a1a" stroke-width="0.3" textLength="28.2" lengthAdjust="spacingAndGlyphs">32.4</text>
<rect x="473" y="476" width="89.7" height="26.4" fill="#FFCCCC"/>
<rect x="473" y="502.4" width="89.7" height="18.1" fill="#FFE3CA"/>
<rect x="473" y="520.5" width="89.7" height="90.5" fill="#CBE4CA"/>
<line x1="473" y1="475.4" x2="473" y2="612.6" stroke="#000" stroke-width="2.0"/>
<line x1="473" y1="611.6" x2="564.3" y2="611.6" stroke="#000" stroke-width="2.0"/>
<line x1="463.8" y1="502.4" x2="473" y2="502.4" stroke="#000" stroke-width="2.0"/>
<line x1="463.8" y1="538.6" x2="473" y2="538.6" stroke="#000" stroke-width="2.0"/>
<line x1="463.8" y1="574.8" x2="473" y2="574.8" stroke="#000" stroke-width="2.0"/>
<line x1="463.8" y1="611" x2="473" y2="611" stroke="#000" stroke-width="2.0"/>
<text x="460.5" y="508.13" font-size="17.3" font-weight="bold" text-anchor="end">60</text>
<text x="460.5" y="544.33" font-size="17.3" font-weight="bold" text-anchor="end">40</text>
<text x="460.5" y="580.53" font-size="17.3" font-weight="bold" text-anchor="end">20</text>
<text x="460.5" y="616.73" font-size="17.3" font-weight="bold" text-anchor="end">0</text>
<line x1="498.7" y1="611.6" x2="498.7" y2="620.6" stroke="#000" stroke-width="2.0"/>
<line x1="538" y1="611.6" x2="538" y2="620.6" stroke="#000" stroke-width="2.0"/>
<circle cx="498.63" cy="565.69" r="2.7" fill="#0000E8"/>
<circle cx="499.15" cy="570.87" r="2.7" fill="#0000E8"/>
<circle cx="487.76" cy="573.97" r="2.7" fill="#0000E8"/>
<circle cx="491.9" cy="575.52" r="2.7" fill="#0000E8"/>
<circle cx="496.04" cy="577.08" r="2.7" fill="#0000E8"/>
<circle cx="500.7" cy="573.45" r="2.7" fill="#0000E8"/>
<circle cx="504.84" cy="572.94" r="2.7" fill="#0000E8"/>
<circle cx="509.5" cy="573.97" r="2.7" fill="#0000E8"/>
<circle cx="493.45" cy="580.7" r="2.7" fill="#0000E8"/>
<circle cx="498.11" cy="580.18" r="2.7" fill="#0000E8"/>
<circle cx="502.25" cy="578.63" r="2.7" fill="#0000E8"/>
<circle cx="506.91" cy="578.11" r="2.7" fill="#0000E8"/>
<circle cx="493.45" cy="584.32" r="2.7" fill="#0000E8"/>
<circle cx="498.11" cy="583.8" r="2.7" fill="#0000E8"/>
<circle cx="503.29" cy="583.29" r="2.7" fill="#0000E8"/>
<circle cx="493.45" cy="586.91" r="2.7" fill="#0000E8"/>
<circle cx="499.15" cy="585.87" r="2.7" fill="#0000E8"/>
<circle cx="503.8" cy="588.46" r="2.7" fill="#0000E8"/>
<circle cx="489.83" cy="575.52" r="2.7" fill="#0000E8"/>
<circle cx="505.87" cy="575.52" r="2.7" fill="#0000E8"/>
<circle cx="538.47" cy="568.28" r="2.7" fill="#F00000"/>
<circle cx="527.61" cy="572.94" r="2.7" fill="#F00000"/>
<circle cx="531.75" cy="572.42" r="2.7" fill="#F00000"/>
<circle cx="535.89" cy="571.38" r="2.7" fill="#F00000"/>
<circle cx="541.06" cy="571.9" r="2.7" fill="#F00000"/>
<circle cx="547.27" cy="570.35" r="2.7" fill="#F00000"/>
<circle cx="526.57" cy="576.04" r="2.7" fill="#F00000"/>
<circle cx="531.23" cy="575.52" r="2.7" fill="#F00000"/>
<circle cx="535.37" cy="574.49" r="2.7" fill="#F00000"/>
<circle cx="540.03" cy="575.01" r="2.7" fill="#F00000"/>
<circle cx="544.17" cy="574.49" r="2.7" fill="#F00000"/>
<circle cx="548.82" cy="575.52" r="2.7" fill="#F00000"/>
<circle cx="530.71" cy="579.66" r="2.7" fill="#F00000"/>
<circle cx="534.85" cy="578.63" r="2.7" fill="#F00000"/>
<circle cx="539.51" cy="578.11" r="2.7" fill="#F00000"/>
<circle cx="543.13" cy="578.11" r="2.7" fill="#F00000"/>
<circle cx="533.82" cy="582.77" r="2.7" fill="#F00000"/>
<circle cx="538.47" cy="582.25" r="2.7" fill="#F00000"/>
<circle cx="538.47" cy="585.87" r="2.7" fill="#F00000"/>
<circle cx="535.89" cy="590.01" r="2.7" fill="#F00000"/>
<path d="M498.7 552.6V538.8H538V555.2" fill="none" stroke="#000" stroke-width="2.0"/>
<text x="518" y="527.7" font-size="18.5" text-anchor="middle" fill="#111" stroke="#111" stroke-width="0.3" textLength="18.8" lengthAdjust="spacingAndGlyphs">ns</text>
<text transform="translate(423.8 543.3) rotate(-90)" x="0" y="6.12" font-size="17" font-weight="bold" text-anchor="middle" textLength="120" lengthAdjust="spacingAndGlyphs" style="white-space:pre">V40.8 Gy  (%)</text>
<text x="419.3" y="443.3" font-size="21.5" fill="#1a1a1a" stroke="#1a1a1a" stroke-width="0.3" textLength="124.6" lengthAdjust="spacingAndGlyphs">k) Rectum V</text>
<text x="544.4" y="448.1" font-size="14.5" fill="#1a1a1a" stroke="#1a1a1a" stroke-width="0.3" textLength="28.2" lengthAdjust="spacingAndGlyphs">40.8</text>
<rect x="664" y="476" width="90" height="31" fill="#FFCCCC"/>
<rect x="664" y="507" width="90" height="20.7" fill="#FFE3CA"/>
<rect x="664" y="527.7" width="90" height="82.8" fill="#CBE4CA"/>
<line x1="664" y1="475.4" x2="664" y2="612.1" stroke="#000" stroke-width="2.0"/>
<line x1="664" y1="611.1" x2="755.6" y2="611.1" stroke="#000" stroke-width="2.0"/>
<line x1="654.8" y1="486.3" x2="664" y2="486.3" stroke="#000" stroke-width="2.0"/>
<line x1="654.8" y1="527.7" x2="664" y2="527.7" stroke="#000" stroke-width="2.0"/>
<line x1="654.8" y1="569.1" x2="664" y2="569.1" stroke="#000" stroke-width="2.0"/>
<line x1="654.8" y1="610.5" x2="664" y2="610.5" stroke="#000" stroke-width="2.0"/>
<text x="651.5" y="492.03" font-size="17.3" font-weight="bold" text-anchor="end">60</text>
<text x="651.5" y="533.43" font-size="17.3" font-weight="bold" text-anchor="end">40</text>
<text x="651.5" y="574.83" font-size="17.3" font-weight="bold" text-anchor="end">20</text>
<text x="651.5" y="616.23" font-size="17.3" font-weight="bold" text-anchor="end">0</text>
<line x1="689.4" y1="611.1" x2="689.4" y2="620.1" stroke="#000" stroke-width="2.0"/>
<line x1="729" y1="611.1" x2="729" y2="620.1" stroke="#000" stroke-width="2.0"/>
<circle cx="689.15" cy="561.73" r="2.7" fill="#0000E8"/>
<circle cx="694.84" cy="567.94" r="2.7" fill="#0000E8"/>
<circle cx="697.94" cy="566.9" r="2.7" fill="#0000E8"/>
<circle cx="678.28" cy="571.04" r="2.7" fill="#0000E8"/>
<circle cx="682.42" cy="570.52" r="2.7" fill="#0000E8"/>
<circle cx="686.56" cy="571.56" r="2.7" fill="#0000E8"/>
<circle cx="691.22" cy="570.01" r="2.7" fill="#0000E8"/>
<circle cx="700.01" cy="573.63" r="2.7" fill="#0000E8"/>
<circle cx="681.38" cy="576.22" r="2.7" fill="#0000E8"/>
<circle cx="685.52" cy="575.7" r="2.7" fill="#0000E8"/>
<circle cx="690.18" cy="575.18" r="2.7" fill="#0000E8"/>
<circle cx="695.36" cy="574.66" r="2.7" fill="#0000E8"/>
<circle cx="685.52" cy="581.91" r="2.7" fill="#0000E8"/>
<circle cx="690.18" cy="581.39" r="2.7" fill="#0000E8"/>
<circle cx="694.32" cy="579.84" r="2.7" fill="#0000E8"/>
<circle cx="685.01" cy="588.12" r="2.7" fill="#0000E8"/>
<circle cx="691.22" cy="586.05" r="2.7" fill="#0000E8"/>
<circle cx="694.84" cy="583.98" r="2.7" fill="#0000E8"/>
<circle cx="688.11" cy="578.29" r="2.7" fill="#0000E8"/>
<circle cx="692.77" cy="577.25" r="2.7" fill="#0000E8"/>
<circle cx="720.19" cy="567.94" r="2.7" fill="#F00000"/>
<circle cx="733.65" cy="564.83" r="2.7" fill="#F00000"/>
<circle cx="737.27" cy="567.94" r="2.7" fill="#F00000"/>
<circle cx="717.09" cy="573.63" r="2.7" fill="#F00000"/>
<circle cx="721.75" cy="571.56" r="2.7" fill="#F00000"/>
<circle cx="726.4" cy="570.52" r="2.7" fill="#F00000"/>
<circle cx="731.06" cy="570.01" r="2.7" fill="#F00000"/>
<circle cx="739.34" cy="572.08" r="2.7" fill="#F00000"/>
<circle cx="723.82" cy="575.18" r="2.7" fill="#F00000"/>
<circle cx="727.96" cy="574.15" r="2.7" fill="#F00000"/>
<circle cx="732.1" cy="573.63" r="2.7" fill="#F00000"/>
<circle cx="736.24" cy="572.59" r="2.7" fill="#F00000"/>
<circle cx="722.78" cy="578.8" r="2.7" fill="#F00000"/>
<circle cx="727.44" cy="578.29" r="2.7" fill="#F00000"/>
<circle cx="732.1" cy="577.25" r="2.7" fill="#F00000"/>
<circle cx="727.96" cy="582.43" r="2.7" fill="#F00000"/>
<circle cx="731.58" cy="584.5" r="2.7" fill="#F00000"/>
<circle cx="725.89" cy="588.12" r="2.7" fill="#F00000"/>
<circle cx="719.16" cy="572.08" r="2.7" fill="#F00000"/>
<circle cx="730.54" cy="580.36" r="2.7" fill="#F00000"/>
<path d="M689.4 549.2V534.7H729V551.8" fill="none" stroke="#000" stroke-width="2.0"/>
<text x="708.8" y="523.7" font-size="18.5" text-anchor="middle" fill="#111" stroke="#111" stroke-width="0.3" textLength="18.8" lengthAdjust="spacingAndGlyphs">ns</text>
<text transform="translate(613.7 543.2) rotate(-90)" x="0" y="6.23" font-size="17.3" font-weight="bold" text-anchor="middle" textLength="119.8" lengthAdjust="spacingAndGlyphs" style="white-space:pre">V43.5 Gy  (%)</text>
<text x="591.3" y="443.3" font-size="21.5" fill="#1a1a1a" stroke="#1a1a1a" stroke-width="0.3" textLength="117.2" lengthAdjust="spacingAndGlyphs">l) Rectum V</text>
<text x="709" y="448.1" font-size="14.5" fill="#1a1a1a" stroke="#1a1a1a" stroke-width="0.3" textLength="28.2" lengthAdjust="spacingAndGlyphs">43.5</text>
<rect x="74.2" y="713.2" width="90" height="33.65" fill="#FFCCCC"/>
<rect x="74.2" y="746.85" width="90" height="16.82" fill="#FFE3CA"/>
<rect x="74.2" y="763.67" width="90" height="84.12" fill="#CBE4CA"/>
<line x1="74.2" y1="712.6" x2="74.2" y2="849.4" stroke="#000" stroke-width="2.0"/>
<line x1="74.2" y1="848.4" x2="165.8" y2="848.4" stroke="#000" stroke-width="2.0"/>
<line x1="65" y1="713.2" x2="74.2" y2="713.2" stroke="#000" stroke-width="2.0"/>
<line x1="65" y1="746.85" x2="74.2" y2="746.85" stroke="#000" stroke-width="2.0"/>
<line x1="65" y1="780.5" x2="74.2" y2="780.5" stroke="#000" stroke-width="2.0"/>
<line x1="65" y1="814.15" x2="74.2" y2="814.15" stroke="#000" stroke-width="2.0"/>
<line x1="65" y1="847.8" x2="74.2" y2="847.8" stroke="#000" stroke-width="2.0"/>
<text x="61.7" y="718.96" font-size="17.4" font-weight="bold" text-anchor="end">40</text>
<text x="61.7" y="752.61" font-size="17.4" font-weight="bold" text-anchor="end">30</text>
<text x="61.7" y="786.26" font-size="17.4" font-weight="bold" text-anchor="end">20</text>
<text x="61.7" y="819.91" font-size="17.4" font-weight="bold" text-anchor="end">10</text>
<text x="61.7" y="853.56" font-size="17.4" font-weight="bold" text-anchor="end">0</text>
<line x1="99.1" y1="848.4" x2="99.1" y2="857.4" stroke="#000" stroke-width="2.0"/>
<line x1="139.2" y1="848.4" x2="139.2" y2="857.4" stroke="#000" stroke-width="2.0"/>
<circle cx="100.18" cy="787.76" r="2.7" fill="#0000E8"/>
<circle cx="98.11" cy="793.97" r="2.7" fill="#0000E8"/>
<circle cx="102.25" cy="793.97" r="2.7" fill="#0000E8"/>
<circle cx="93.45" cy="800.18" r="2.7" fill="#0000E8"/>
<circle cx="98.11" cy="799.15" r="2.7" fill="#0000E8"/>
<circle cx="102.25" cy="799.66" r="2.7" fill="#0000E8"/>
<circle cx="106.39" cy="799.15" r="2.7" fill="#0000E8"/>
<circle cx="88.8" cy="803.29" r="2.7" fill="#0000E8"/>
<circle cx="92.94" cy="803.29" r="2.7" fill="#0000E8"/>
<circle cx="97.59" cy="803.29" r="2.7" fill="#0000E8"/>
<circle cx="102.25" cy="802.77" r="2.7" fill="#0000E8"/>
<circle cx="106.39" cy="802.25" r="2.7" fill="#0000E8"/>
<circle cx="110.53" cy="802.77" r="2.7" fill="#0000E8"/>
<circle cx="93.45" cy="807.43" r="2.7" fill="#0000E8"/>
<circle cx="98.11" cy="806.39" r="2.7" fill="#0000E8"/>
<circle cx="102.77" cy="805.36" r="2.7" fill="#0000E8"/>
<circle cx="98.11" cy="811.05" r="2.7" fill="#0000E8"/>
<circle cx="102.25" cy="813.12" r="2.7" fill="#0000E8"/>
<circle cx="93.45" cy="816.74" r="2.7" fill="#0000E8"/>
<circle cx="98.11" cy="818.29" r="2.7" fill="#0000E8"/>
<circle cx="102.25" cy="817.77" r="2.7" fill="#0000E8"/>
<circle cx="102.25" cy="822.43" r="2.7" fill="#0000E8"/>
<circle cx="98.11" cy="826.05" r="2.7" fill="#0000E8"/>
<circle cx="138.47" cy="796.56" r="2.7" fill="#F00000"/>
<circle cx="141.06" cy="799.15" r="2.7" fill="#F00000"/>
<circle cx="130.71" cy="801.73" r="2.7" fill="#F00000"/>
<circle cx="127.09" cy="807.43" r="2.7" fill="#F00000"/>
<circle cx="131.23" cy="805.87" r="2.7" fill="#F00000"/>
<circle cx="135.37" cy="804.32" r="2.7" fill="#F00000"/>
<circle cx="140.03" cy="803.8" r="2.7" fill="#F00000"/>
<circle cx="144.68" cy="802.77" r="2.7" fill="#F00000"/>
<circle cx="148.31" cy="802.77" r="2.7" fill="#F00000"/>
<circle cx="149.34" cy="806.39" r="2.7" fill="#F00000"/>
<circle cx="133.82" cy="809.5" r="2.7" fill="#F00000"/>
<circle cx="137.96" cy="808.46" r="2.7" fill="#F00000"/>
<circle cx="142.1" cy="807.94" r="2.7" fill="#F00000"/>
<circle cx="145.72" cy="806.91" r="2.7" fill="#F00000"/>
<circle cx="132.78" cy="812.6" r="2.7" fill="#F00000"/>
<circle cx="137.96" cy="811.57" r="2.7" fill="#F00000"/>
<circle cx="137.96" cy="816.22" r="2.7" fill="#F00000"/>
<circle cx="141.58" cy="818.29" r="2.7" fill="#F00000"/>
<circle cx="135.89" cy="821.91" r="2.7" fill="#F00000"/>
<path d="M99.1 774.8V760.3H139.2V783.1" fill="none" stroke="#000" stroke-width="2.0"/>
<text x="119" y="749.4" font-size="18.5" text-anchor="middle" fill="#111" stroke="#111" stroke-width="0.3" textLength="18.8" lengthAdjust="spacingAndGlyphs">ns</text>
<text transform="translate(23.8 781.2) rotate(-90)" x="0" y="6.73" font-size="18.7" font-weight="bold" text-anchor="middle" textLength="118.2" lengthAdjust="spacingAndGlyphs" style="white-space:pre">V52.8 Gy (%)</text>
<text x="16.2" y="671.6" font-size="21.5" fill="#1a1a1a" stroke="#1a1a1a" stroke-width="0.3" textLength="130.8" lengthAdjust="spacingAndGlyphs">m) Rectum V</text>
<text x="147.5" y="676.4" font-size="14.5" fill="#1a1a1a" stroke="#1a1a1a" stroke-width="0.3" textLength="28.2" lengthAdjust="spacingAndGlyphs">52.8</text>
<rect x="289.6" y="712.68" width="90.5" height="22.52" fill="#FFCCCC"/>
<rect x="289.6" y="735.2" width="90.5" height="7.51" fill="#FFE3CA"/>
<rect x="289.6" y="742.71" width="90.5" height="105.09" fill="#CBE4CA"/>
<line x1="289.6" y1="711.8" x2="289.6" y2="849.4" stroke="#000" stroke-width="2.0"/>
<line x1="289.6" y1="848.4" x2="381.7" y2="848.4" stroke="#000" stroke-width="2.0"/>
<line x1="280.4" y1="735.2" x2="289.6" y2="735.2" stroke="#000" stroke-width="2.0"/>
<line x1="280.4" y1="772.73" x2="289.6" y2="772.73" stroke="#000" stroke-width="2.0"/>
<line x1="280.4" y1="810.27" x2="289.6" y2="810.27" stroke="#000" stroke-width="2.0"/>
<line x1="280.4" y1="847.8" x2="289.6" y2="847.8" stroke="#000" stroke-width="2.0"/>
<text x="277.1" y="740.93" font-size="17.3" font-weight="bold" text-anchor="end">15</text>
<text x="277.1" y="778.46" font-size="17.3" font-weight="bold" text-anchor="end">10</text>
<text x="277.1" y="815.99" font-size="17.3" font-weight="bold" text-anchor="end">5</text>
<text x="277.1" y="853.53" font-size="17.3" font-weight="bold" text-anchor="end">0</text>
<line x1="315.5" y1="848.4" x2="315.5" y2="857.4" stroke="#000" stroke-width="2.0"/>
<line x1="354.3" y1="848.4" x2="354.3" y2="857.4" stroke="#000" stroke-width="2.0"/>
<circle cx="315.49" cy="746.73" r="2.7" fill="#0000E8"/>
<circle cx="312.39" cy="758.42" r="2.7" fill="#0000E8"/>
<circle cx="317.98" cy="756.56" r="2.7" fill="#0000E8"/>
<circle cx="320.87" cy="767.12" r="2.7" fill="#0000E8"/>
<circle cx="304.83" cy="770.84" r="2.7" fill="#0000E8"/>
<circle cx="310.32" cy="773.12" r="2.7" fill="#0000E8"/>
<circle cx="315.49" cy="770.84" r="2.7" fill="#0000E8"/>
<circle cx="326.25" cy="774.36" r="2.7" fill="#0000E8"/>
<circle cx="310.32" cy="777.77" r="2.7" fill="#0000E8"/>
<circle cx="315.49" cy="777.77" r="2.7" fill="#0000E8"/>
<circle cx="320.87" cy="777.77" r="2.7" fill="#0000E8"/>
<circle cx="310.32" cy="785.02" r="2.7" fill="#0000E8"/>
<circle cx="315.49" cy="787.61" r="2.7" fill="#0000E8"/>
<circle cx="320.87" cy="785.02" r="2.7" fill="#0000E8"/>
<circle cx="315.49" cy="794.85" r="2.7" fill="#0000E8"/>
<circle cx="315.49" cy="801.06" r="2.7" fill="#0000E8"/>
<circle cx="310.32" cy="810.89" r="2.7" fill="#0000E8"/>
<circle cx="320.87" cy="811.41" r="2.7" fill="#0000E8"/>
<circle cx="315.49" cy="816.07" r="2.7" fill="#0000E8"/>
<circle cx="315.49" cy="824.35" r="2.7" fill="#0000E8"/>
<circle cx="353.99" cy="772.91" r="2.7" fill="#F00000"/>
<circle cx="343.64" cy="779.84" r="2.7" fill="#F00000"/>
<circle cx="348.82" cy="779.84" r="2.7" fill="#F00000"/>
<circle cx="354.51" cy="780.36" r="2.7" fill="#F00000"/>
<circle cx="360.2" cy="780.88" r="2.7" fill="#F00000"/>
<circle cx="364.86" cy="779.84" r="2.7" fill="#F00000"/>
<circle cx="346.23" cy="784.5" r="2.7" fill="#F00000"/>
<circle cx="351.4" cy="784.5" r="2.7" fill="#F00000"/>
<circle cx="357.1" cy="783.98" r="2.7" fill="#F00000"/>
<circle cx="361.24" cy="782.95" r="2.7" fill="#F00000"/>
<circle cx="346.23" cy="789.68" r="2.7" fill="#F00000"/>
<circle cx="351.4" cy="788.64" r="2.7" fill="#F00000"/>
<circle cx="356.06" cy="789.68" r="2.7" fill="#F00000"/>
<circle cx="361.24" cy="790.5" r="2.7" fill="#F00000"/>
<circle cx="349.85" cy="793.3" r="2.7" fill="#F00000"/>
<circle cx="355.03" cy="793.82" r="2.7" fill="#F00000"/>
<circle cx="353.99" cy="803.13" r="2.7" fill="#F00000"/>
<circle cx="350.89" cy="807.79" r="2.7" fill="#F00000"/>
<circle cx="357.1" cy="807.06" r="2.7" fill="#F00000"/>
<circle cx="352.96" cy="787.61" r="2.7" fill="#F00000"/>
<path d="M315.5 732.6V719.4H354.3V760.3" fill="none" stroke="#000" stroke-width="2.0"/>
<text x="334.4" y="708.5" font-size="18.5" text-anchor="middle" fill="#111" stroke="#111" stroke-width="0.3" textLength="18.8" lengthAdjust="spacingAndGlyphs">ns</text>
<text transform="translate(241.3 780.8) rotate(-90)" x="0" y="6.16" font-size="17.1" font-weight="bold" text-anchor="middle" textLength="100.2" lengthAdjust="spacingAndGlyphs" style="white-space:pre">V57 Gy (%)</text>
<text x="213.6" y="671.6" font-size="21.5" fill="#1a1a1a" stroke="#1a1a1a" stroke-width="0.3" textLength="125.3" lengthAdjust="spacingAndGlyphs">n) Rectum V</text>
<text x="339.4" y="676.4" font-size="14.5" fill="#1a1a1a" stroke="#1a1a1a" stroke-width="0.3" textLength="15.4" lengthAdjust="spacingAndGlyphs">57</text>
<rect x="473.7" y="709.9" width="89.9" height="93.58" fill="#FFCCCC"/>
<rect x="473.7" y="803.48" width="89.9" height="10.43" fill="#FFE3CA"/>
<rect x="473.7" y="813.91" width="89.9" height="31.29" fill="#CBE4CA"/>
<line x1="473.7" y1="709.3" x2="473.7" y2="846.8" stroke="#000" stroke-width="2.0"/>
<line x1="473.7" y1="845.8" x2="565.2" y2="845.8" stroke="#000" stroke-width="2.0"/>
<line x1="464.5" y1="740.9" x2="473.7" y2="740.9" stroke="#000" stroke-width="2.0"/>
<line x1="464.5" y1="793.05" x2="473.7" y2="793.05" stroke="#000" stroke-width="2.0"/>
<line x1="464.5" y1="845.2" x2="473.7" y2="845.2" stroke="#000" stroke-width="2.0"/>
<text x="461.2" y="746.7" font-size="17.5" font-weight="bold" text-anchor="end">10</text>
<text x="461.2" y="798.85" font-size="17.5" font-weight="bold" text-anchor="end">5</text>
<text x="461.2" y="851" font-size="17.5" font-weight="bold" text-anchor="end">0</text>
<line x1="499.5" y1="845.8" x2="499.5" y2="854.8" stroke="#000" stroke-width="2.0"/>
<line x1="538.6" y1="845.8" x2="538.6" y2="854.8" stroke="#000" stroke-width="2.0"/>
<circle cx="490.5" cy="842.4" r="2.7" fill="#0000E8"/>
<circle cx="493.5" cy="842.4" r="2.7" fill="#0000E8"/>
<circle cx="496.5" cy="842.4" r="2.7" fill="#0000E8"/>
<circle cx="499.5" cy="842.4" r="2.7" fill="#0000E8"/>
<circle cx="502.5" cy="842.4" r="2.7" fill="#0000E8"/>
<circle cx="505.5" cy="842.4" r="2.7" fill="#0000E8"/>
<circle cx="509" cy="842.4" r="2.7" fill="#0000E8"/>
<circle cx="490.4" cy="841.6" r="2.7" fill="#0000E8"/>
<circle cx="505.4" cy="841.6" r="2.7" fill="#0000E8"/>
<circle cx="508.5" cy="841.8" r="2.7" fill="#0000E8"/>
<circle cx="492" cy="844.2" r="2.7" fill="#0000E8"/>
<circle cx="496" cy="844.2" r="2.7" fill="#0000E8"/>
<circle cx="500" cy="844.2" r="2.7" fill="#0000E8"/>
<circle cx="504" cy="844.2" r="2.7" fill="#0000E8"/>
<circle cx="508" cy="844.2" r="2.7" fill="#0000E8"/>
<circle cx="528" cy="843" r="2.7" fill="#F00000"/>
<circle cx="531" cy="843" r="2.7" fill="#F00000"/>
<circle cx="534" cy="843" r="2.7" fill="#F00000"/>
<circle cx="537" cy="843" r="2.7" fill="#F00000"/>
<circle cx="540" cy="843" r="2.7" fill="#F00000"/>
<circle cx="543" cy="843" r="2.7" fill="#F00000"/>
<circle cx="546" cy="843" r="2.7" fill="#F00000"/>
<circle cx="549" cy="841.8" r="2.7" fill="#F00000"/>
<circle cx="547" cy="842.5" r="2.7" fill="#F00000"/>
<circle cx="538.5" cy="827.6" r="2.7" fill="#F00000"/>
<circle cx="530" cy="844" r="2.7" fill="#F00000"/>
<circle cx="534" cy="844" r="2.7" fill="#F00000"/>
<circle cx="538" cy="844" r="2.7" fill="#F00000"/>
<circle cx="542" cy="844" r="2.7" fill="#F00000"/>
<circle cx="546" cy="844" r="2.7" fill="#F00000"/>
<path d="M499.5 827.1V799.9H538.6V814.7" fill="none" stroke="#000" stroke-width="2.0"/>
<text x="518.9" y="790.2" font-size="18.5" text-anchor="middle" fill="#111" stroke="#111" stroke-width="0.3" textLength="18.8" lengthAdjust="spacingAndGlyphs">ns</text>
<text transform="translate(425 777) rotate(-90)" x="0" y="7.02" font-size="19.5" font-weight="bold" text-anchor="middle" textLength="97.5" lengthAdjust="spacingAndGlyphs" style="white-space:pre">V60 Gy (%)</text>
<text x="422" y="671.3" font-size="21.5" fill="#1a1a1a" stroke="#1a1a1a" stroke-width="0.3" textLength="124.7" lengthAdjust="spacingAndGlyphs">o) Rectum V</text>
<text x="547.2" y="676.1" font-size="14.5" fill="#1a1a1a" stroke="#1a1a1a" stroke-width="0.3" textLength="16.2" lengthAdjust="spacingAndGlyphs">60</text>
<rect x="668.9" y="715.5" width="89.8" height="54.16" fill="#FFCCCC"/>
<rect x="668.9" y="769.66" width="89.8" height="27.08" fill="#FFE3CA"/>
<rect x="668.9" y="796.74" width="89.8" height="54.16" fill="#CBE4CA"/>
<rect x="668.9" y="795.14" width="89.8" height="1.8" fill="#fff"/>
<line x1="668.9" y1="714.9" x2="668.9" y2="852.5" stroke="#000" stroke-width="2.0"/>
<line x1="668.9" y1="851.5" x2="760.3" y2="851.5" stroke="#000" stroke-width="2.0"/>
<line x1="659.7" y1="715.5" x2="668.9" y2="715.5" stroke="#000" stroke-width="2.0"/>
<line x1="659.7" y1="742.58" x2="668.9" y2="742.58" stroke="#000" stroke-width="2.0"/>
<line x1="659.7" y1="769.66" x2="668.9" y2="769.66" stroke="#000" stroke-width="2.0"/>
<line x1="659.7" y1="796.74" x2="668.9" y2="796.74" stroke="#000" stroke-width="2.0"/>
<line x1="659.7" y1="823.82" x2="668.9" y2="823.82" stroke="#000" stroke-width="2.0"/>
<line x1="659.7" y1="850.9" x2="668.9" y2="850.9" stroke="#000" stroke-width="2.0"/>
<text x="656.4" y="721.23" font-size="17.3" font-weight="bold" text-anchor="end">3.3</text>
<text x="656.4" y="748.31" font-size="17.3" font-weight="bold" text-anchor="end">3.2</text>
<text x="656.4" y="775.39" font-size="17.3" font-weight="bold" text-anchor="end">3.1</text>
<text x="656.4" y="802.47" font-size="17.3" font-weight="bold" text-anchor="end">3.0</text>
<text x="656.4" y="829.55" font-size="17.3" font-weight="bold" text-anchor="end">2.9</text>
<text x="656.4" y="856.63" font-size="17.3" font-weight="bold" text-anchor="end">2.8</text>
<line x1="693.8" y1="851.5" x2="693.8" y2="860.5" stroke="#000" stroke-width="2.0"/>
<line x1="733.4" y1="851.5" x2="733.4" y2="860.5" stroke="#000" stroke-width="2.0"/>
<circle cx="694.31" cy="761.05" r="2.7" fill="#0000E8"/>
<circle cx="690.69" cy="771.73" r="2.7" fill="#0000E8"/>
<circle cx="694.49" cy="774" r="2.7" fill="#0000E8"/>
<circle cx="698.11" cy="774.63" r="2.7" fill="#0000E8"/>
<circle cx="690.87" cy="782.6" r="2.7" fill="#0000E8"/>
<circle cx="694.49" cy="782.6" r="2.7" fill="#0000E8"/>
<circle cx="698.11" cy="782.6" r="2.7" fill="#0000E8"/>
<circle cx="687.24" cy="788.03" r="2.7" fill="#0000E8"/>
<circle cx="690.87" cy="789.84" r="2.7" fill="#0000E8"/>
<circle cx="694.49" cy="790.75" r="2.7" fill="#0000E8"/>
<circle cx="698.11" cy="789.84" r="2.7" fill="#0000E8"/>
<circle cx="701.73" cy="788.49" r="2.7" fill="#0000E8"/>
<circle cx="683.17" cy="795.73" r="2.7" fill="#0000E8"/>
<circle cx="686.79" cy="796.18" r="2.7" fill="#0000E8"/>
<circle cx="690.87" cy="796.64" r="2.7" fill="#0000E8"/>
<circle cx="694.94" cy="797.09" r="2.7" fill="#0000E8"/>
<circle cx="698.56" cy="796.64" r="2.7" fill="#0000E8"/>
<circle cx="702.19" cy="796.18" r="2.7" fill="#0000E8"/>
<circle cx="705.36" cy="796.64" r="2.7" fill="#0000E8"/>
<circle cx="690.87" cy="801.62" r="2.7" fill="#0000E8"/>
<circle cx="694.49" cy="799.35" r="2.7" fill="#0000E8"/>
<circle cx="698.11" cy="799.35" r="2.7" fill="#0000E8"/>
<circle cx="735.24" cy="777.17" r="2.7" fill="#F00000"/>
<circle cx="733.43" cy="779.88" r="2.7" fill="#F00000"/>
<circle cx="726.18" cy="785.32" r="2.7" fill="#F00000"/>
<circle cx="730.71" cy="785.77" r="2.7" fill="#F00000"/>
<circle cx="735.24" cy="786.22" r="2.7" fill="#F00000"/>
<circle cx="738.86" cy="787.13" r="2.7" fill="#F00000"/>
<circle cx="722.56" cy="790.75" r="2.7" fill="#F00000"/>
<circle cx="726.18" cy="790.3" r="2.7" fill="#F00000"/>
<circle cx="730.26" cy="789.84" r="2.7" fill="#F00000"/>
<circle cx="734.33" cy="790.3" r="2.7" fill="#F00000"/>
<circle cx="737.96" cy="789.84" r="2.7" fill="#F00000"/>
<circle cx="742.48" cy="790.75" r="2.7" fill="#F00000"/>
<circle cx="724.37" cy="793.01" r="2.7" fill="#F00000"/>
<circle cx="728.9" cy="793.01" r="2.7" fill="#F00000"/>
<circle cx="732.52" cy="793.47" r="2.7" fill="#F00000"/>
<circle cx="737.05" cy="792.56" r="2.7" fill="#F00000"/>
<circle cx="740.67" cy="792.56" r="2.7" fill="#F00000"/>
<circle cx="730.71" cy="796.18" r="2.7" fill="#F00000"/>
<circle cx="734.33" cy="795.73" r="2.7" fill="#F00000"/>
<path d="M693.8 747.4V734.4H733.4V763.7" fill="none" stroke="#000" stroke-width="2.0"/>
<text x="713.5" y="723" font-size="18.5" text-anchor="middle" fill="#111" stroke="#111" stroke-width="0.3" textLength="18.8" lengthAdjust="spacingAndGlyphs">ns</text>
<text transform="translate(613.9 782.4) rotate(-90)" x="0" y="6.66" font-size="18.5" font-weight="bold" text-anchor="middle" textLength="113.4" lengthAdjust="spacingAndGlyphs" style="white-space:pre">D0.03cc (Gy)</text>
<text x="598.3" y="671.3" font-size="21.5" fill="#1a1a1a" stroke="#1a1a1a" stroke-width="0.3" textLength="126" lengthAdjust="spacingAndGlyphs">p) Rectum D</text>
<text x="724.8" y="676.1" font-size="14.5" fill="#1a1a1a" stroke="#1a1a1a" stroke-width="0.3" textLength="28.2" lengthAdjust="spacingAndGlyphs">0.03</text>
<rect x="84.8" y="930.5" width="92.5" height="55.12" fill="#FFCCCC"/>
<rect x="84.8" y="985.62" width="92.5" height="27.56" fill="#FFE3CA"/>
<rect x="84.8" y="1013.18" width="92.5" height="55.12" fill="#CBE4CA"/>
<rect x="84.8" y="983.43" width="92.5" height="2.4" fill="#fff"/>
<rect x="84.8" y="1011.09" width="92.5" height="2.2" fill="#fff"/>
<line x1="84.8" y1="929.9" x2="84.8" y2="1069.9" stroke="#000" stroke-width="2.0"/>
<line x1="84.8" y1="1068.9" x2="178.9" y2="1068.9" stroke="#000" stroke-width="2.0"/>
<line x1="75.6" y1="930.5" x2="84.8" y2="930.5" stroke="#000" stroke-width="2.0"/>
<line x1="75.6" y1="958.06" x2="84.8" y2="958.06" stroke="#000" stroke-width="2.0"/>
<line x1="75.6" y1="985.62" x2="84.8" y2="985.62" stroke="#000" stroke-width="2.0"/>
<line x1="75.6" y1="1013.18" x2="84.8" y2="1013.18" stroke="#000" stroke-width="2.0"/>
<line x1="75.6" y1="1040.74" x2="84.8" y2="1040.74" stroke="#000" stroke-width="2.0"/>
<line x1="75.6" y1="1068.3" x2="84.8" y2="1068.3" stroke="#000" stroke-width="2.0"/>
<text x="72.3" y="936.52" font-size="18.1" font-weight="bold" text-anchor="end">3.3</text>
<text x="72.3" y="964.08" font-size="18.1" font-weight="bold" text-anchor="end">3.2</text>
<text x="72.3" y="991.64" font-size="18.1" font-weight="bold" text-anchor="end">3.1</text>
<text x="72.3" y="1019.2" font-size="18.1" font-weight="bold" text-anchor="end">3.0</text>
<text x="72.3" y="1046.76" font-size="18.1" font-weight="bold" text-anchor="end">2.9</text>
<text x="72.3" y="1074.32" font-size="18.1" font-weight="bold" text-anchor="end">2.8</text>
<line x1="111" y1="1068.9" x2="111" y2="1077.9" stroke="#000" stroke-width="2.0"/>
<line x1="151.1" y1="1068.9" x2="151.1" y2="1077.9" stroke="#000" stroke-width="2.0"/>
<circle cx="107.61" cy="979.7" r="2.7" fill="#0000E8"/>
<circle cx="114.89" cy="979.7" r="2.7" fill="#0000E8"/>
<circle cx="111.01" cy="983.58" r="2.7" fill="#0000E8"/>
<circle cx="122.17" cy="988.43" r="2.7" fill="#0000E8"/>
<circle cx="100.82" cy="993.77" r="2.7" fill="#0000E8"/>
<circle cx="104.7" cy="993.29" r="2.7" fill="#0000E8"/>
<circle cx="108.58" cy="991.83" r="2.7" fill="#0000E8"/>
<circle cx="112.46" cy="991.35" r="2.7" fill="#0000E8"/>
<circle cx="116.83" cy="991.83" r="2.7" fill="#0000E8"/>
<circle cx="120.71" cy="990.86" r="2.7" fill="#0000E8"/>
<circle cx="104.7" cy="995.71" r="2.7" fill="#0000E8"/>
<circle cx="108.58" cy="996.2" r="2.7" fill="#0000E8"/>
<circle cx="112.46" cy="995.71" r="2.7" fill="#0000E8"/>
<circle cx="116.83" cy="996.2" r="2.7" fill="#0000E8"/>
<circle cx="120.71" cy="995.23" r="2.7" fill="#0000E8"/>
<circle cx="111.01" cy="1002.5" r="2.7" fill="#0000E8"/>
<circle cx="105.67" cy="1027.73" r="2.7" fill="#0000E8"/>
<circle cx="109.55" cy="1027.73" r="2.7" fill="#0000E8"/>
<circle cx="113.43" cy="1027.73" r="2.7" fill="#0000E8"/>
<circle cx="116.83" cy="1027.73" r="2.7" fill="#0000E8"/>
<circle cx="150.79" cy="990.86" r="2.7" fill="#F00000"/>
<circle cx="153.21" cy="993.77" r="2.7" fill="#F00000"/>
<circle cx="141.57" cy="997.17" r="2.7" fill="#F00000"/>
<circle cx="145.45" cy="996.68" r="2.7" fill="#F00000"/>
<circle cx="149.33" cy="996.2" r="2.7" fill="#F00000"/>
<circle cx="153.7" cy="996.68" r="2.7" fill="#F00000"/>
<circle cx="158.07" cy="997.17" r="2.7" fill="#F00000"/>
<circle cx="140.12" cy="1000.08" r="2.7" fill="#F00000"/>
<circle cx="144.48" cy="1000.08" r="2.7" fill="#F00000"/>
<circle cx="148.36" cy="1000.08" r="2.7" fill="#F00000"/>
<circle cx="152.73" cy="1000.08" r="2.7" fill="#F00000"/>
<circle cx="157.1" cy="1000.08" r="2.7" fill="#F00000"/>
<circle cx="161.95" cy="999.59" r="2.7" fill="#F00000"/>
<circle cx="143.51" cy="1003.47" r="2.7" fill="#F00000"/>
<circle cx="147.39" cy="1004.44" r="2.7" fill="#F00000"/>
<circle cx="152.24" cy="1004.93" r="2.7" fill="#F00000"/>
<circle cx="156.13" cy="1003.47" r="2.7" fill="#F00000"/>
<circle cx="150.79" cy="1016.57" r="2.7" fill="#F00000"/>
<circle cx="150.79" cy="1027.73" r="2.7" fill="#F00000"/>
<path d="M111 966.4V952.8H151.1V977.7" fill="none" stroke="#000" stroke-width="2.0"/>
<text x="130.9" y="941" font-size="18.5" text-anchor="middle" fill="#111" stroke="#111" stroke-width="0.3" textLength="18.8" lengthAdjust="spacingAndGlyphs">ns</text>
<text transform="translate(29.1 1000.8) rotate(-90)" x="0" y="7.02" font-size="19.5" font-weight="bold" text-anchor="middle" textLength="117.8" lengthAdjust="spacingAndGlyphs" style="white-space:pre">D0.03cc (Gy)</text>
<text x="19.7" y="899" font-size="21.5" fill="#1a1a1a" stroke="#1a1a1a" stroke-width="0.3" textLength="177.7" lengthAdjust="spacingAndGlyphs">q) Large Bowel D</text>
<text x="197.9" y="903.8" font-size="14.5" fill="#1a1a1a" stroke="#1a1a1a" stroke-width="0.3" textLength="29.3" lengthAdjust="spacingAndGlyphs">0.03</text>
<rect x="303.1" y="935" width="91.8" height="77.75" fill="#FFCCCC"/>
<rect x="303.1" y="1012.75" width="91.8" height="47.96" fill="#FFE3CA"/>
<rect x="303.1" y="1060.71" width="91.8" height="11.99" fill="#CBE4CA"/>
<line x1="303.1" y1="934.4" x2="303.1" y2="1074.3" stroke="#000" stroke-width="2.0"/>
<line x1="303.1" y1="1073.3" x2="396.5" y2="1073.3" stroke="#000" stroke-width="2.0"/>
<line x1="293.9" y1="952.8" x2="303.1" y2="952.8" stroke="#000" stroke-width="2.0"/>
<line x1="293.9" y1="982.77" x2="303.1" y2="982.77" stroke="#000" stroke-width="2.0"/>
<line x1="293.9" y1="1012.75" x2="303.1" y2="1012.75" stroke="#000" stroke-width="2.0"/>
<line x1="293.9" y1="1042.72" x2="303.1" y2="1042.72" stroke="#000" stroke-width="2.0"/>
<line x1="293.9" y1="1072.7" x2="303.1" y2="1072.7" stroke="#000" stroke-width="2.0"/>
<text x="290.6" y="958.67" font-size="17.7" font-weight="bold" text-anchor="end">20</text>
<text x="290.6" y="988.65" font-size="17.7" font-weight="bold" text-anchor="end">15</text>
<text x="290.6" y="1018.62" font-size="17.7" font-weight="bold" text-anchor="end">10</text>
<text x="290.6" y="1048.6" font-size="17.7" font-weight="bold" text-anchor="end">5</text>
<text x="290.6" y="1078.57" font-size="17.7" font-weight="bold" text-anchor="end">0</text>
<line x1="329.5" y1="1073.3" x2="329.5" y2="1082.3" stroke="#000" stroke-width="2.0"/>
<line x1="369.4" y1="1073.3" x2="369.4" y2="1082.3" stroke="#000" stroke-width="2.0"/>
<circle cx="329.15" cy="964.52" r="2.7" fill="#0000E8"/>
<circle cx="325.52" cy="971.56" r="2.7" fill="#0000E8"/>
<circle cx="332.77" cy="974.46" r="2.7" fill="#0000E8"/>
<circle cx="325.52" cy="979.63" r="2.7" fill="#0000E8"/>
<circle cx="332.77" cy="980.67" r="2.7" fill="#0000E8"/>
<circle cx="318.8" cy="982.94" r="2.7" fill="#0000E8"/>
<circle cx="340.01" cy="982.74" r="2.7" fill="#0000E8"/>
<circle cx="318.8" cy="988.32" r="2.7" fill="#0000E8"/>
<circle cx="332.77" cy="987.08" r="2.7" fill="#0000E8"/>
<circle cx="340.01" cy="989.36" r="2.7" fill="#0000E8"/>
<circle cx="325.52" cy="991.02" r="2.7" fill="#0000E8"/>
<circle cx="329.15" cy="998.26" r="2.7" fill="#0000E8"/>
<circle cx="325.52" cy="1005.5" r="2.7" fill="#0000E8"/>
<circle cx="332.77" cy="1004.68" r="2.7" fill="#0000E8"/>
<circle cx="329.15" cy="1011.09" r="2.7" fill="#0000E8"/>
<circle cx="329.15" cy="1017.61" r="2.7" fill="#0000E8"/>
<circle cx="332.77" cy="1025.17" r="2.7" fill="#0000E8"/>
<circle cx="325.52" cy="1029.31" r="2.7" fill="#0000E8"/>
<circle cx="329.15" cy="1040.07" r="2.7" fill="#0000E8"/>
<circle cx="329.15" cy="1050.21" r="2.7" fill="#0000E8"/>
<circle cx="368.47" cy="978.6" r="2.7" fill="#F00000"/>
<circle cx="372.1" cy="990.39" r="2.7" fill="#F00000"/>
<circle cx="357.81" cy="994.53" r="2.7" fill="#F00000"/>
<circle cx="379.34" cy="995.16" r="2.7" fill="#F00000"/>
<circle cx="372.1" cy="997.64" r="2.7" fill="#F00000"/>
<circle cx="357.81" cy="1003.12" r="2.7" fill="#F00000"/>
<circle cx="364.85" cy="1002.4" r="2.7" fill="#F00000"/>
<circle cx="379.34" cy="1002.4" r="2.7" fill="#F00000"/>
<circle cx="364.85" cy="1010.68" r="2.7" fill="#F00000"/>
<circle cx="372.1" cy="1009.85" r="2.7" fill="#F00000"/>
<circle cx="372.1" cy="1015.54" r="2.7" fill="#F00000"/>
<circle cx="379.34" cy="1015.54" r="2.7" fill="#F00000"/>
<circle cx="364.85" cy="1018.65" r="2.7" fill="#F00000"/>
<circle cx="357.81" cy="1022.79" r="2.7" fill="#F00000"/>
<circle cx="364.85" cy="1024.55" r="2.7" fill="#F00000"/>
<circle cx="379.34" cy="1025.17" r="2.7" fill="#F00000"/>
<circle cx="357.81" cy="1027.45" r="2.7" fill="#F00000"/>
<circle cx="372.1" cy="1027.96" r="2.7" fill="#F00000"/>
<circle cx="368.47" cy="1035.21" r="2.7" fill="#F00000"/>
<circle cx="368.47" cy="1048.14" r="2.7" fill="#F00000"/>
<path d="M329.5 950.7V936.8H369.4V965.5" fill="none" stroke="#000" stroke-width="2.0"/>
<path d="M349.6 917.5L349.6 927.3M345.36 919.95L353.84 924.85M353.84 919.95L345.36 924.85" stroke="#111" stroke-width="2.0" stroke-linecap="butt"/>
<text transform="translate(254.1 1004.8) rotate(-90)" x="0" y="6.41" font-size="17.8" font-weight="bold" text-anchor="middle" textLength="118.6" lengthAdjust="spacingAndGlyphs" style="white-space:pre">V46.2 Gy (%)</text>
<text x="239.1" y="898.7" font-size="21.5" fill="#1a1a1a" stroke="#1a1a1a" stroke-width="0.3" textLength="150.1" lengthAdjust="spacingAndGlyphs">r) Bowel bag V</text>
<text x="389.7" y="903.5" font-size="14.5" fill="#1a1a1a" stroke="#1a1a1a" stroke-width="0.3" textLength="29" lengthAdjust="spacingAndGlyphs">46.2</text>
<line x1="697.5" y1="13.1" x2="720" y2="13.1" stroke="#1020E0" stroke-width="1.6"/>
<circle cx="708.8" cy="13.1" r="1.9" fill="#1020E0"/>
<text x="733.6" y="18.8" font-size="17.5" fill="#111" textLength="38" lengthAdjust="spacingAndGlyphs">7mm</text>
<line x1="697.5" y1="41.6" x2="720" y2="41.6" stroke="#E01020" stroke-width="1.6"/>
<circle cx="708.8" cy="41.6" r="1.9" fill="#E01020"/>
<text x="733.6" y="47.3" font-size="17.5" fill="#111" textLength="38" lengthAdjust="spacingAndGlyphs">5mm</text>
</svg>
</body></html>
